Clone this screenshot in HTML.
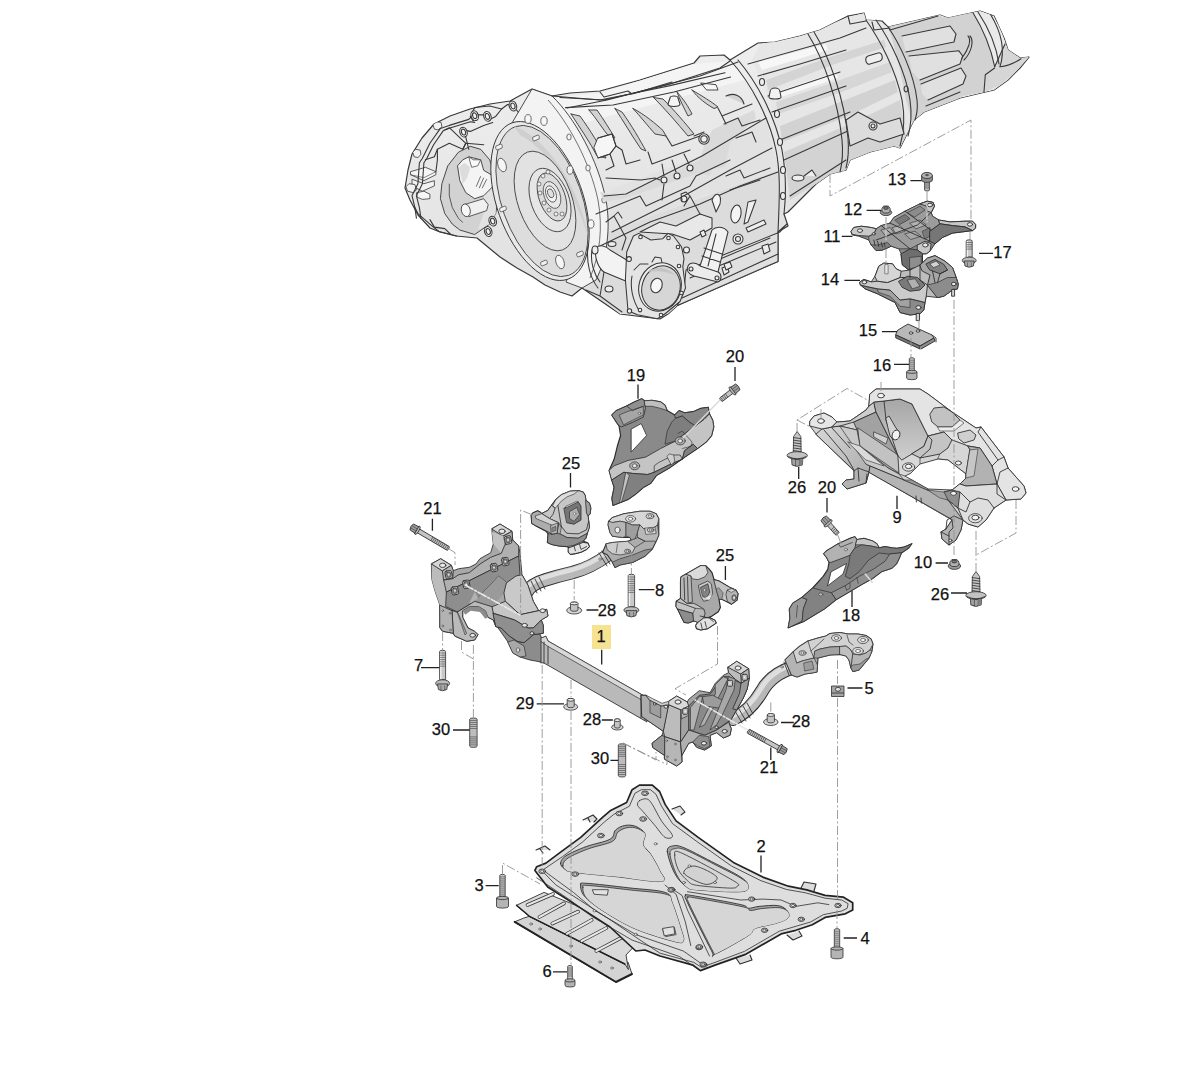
<!DOCTYPE html>
<html><head><meta charset="utf-8"><title>Subframe diagram</title>
<style>
html,body{margin:0;padding:0;background:#fff;}
body{width:1200px;height:1071px;overflow:hidden;font-family:"Liberation Sans",sans-serif;}
svg{display:block}
.l{fill:none;stroke-linejoin:round;stroke-linecap:round}
.t{font-family:"Liberation Sans",sans-serif;font-size:16.5px;fill:#111;text-anchor:middle}
.ld{stroke:#222;stroke-width:1.3;fill:none}
.dd{stroke:#939393;stroke-width:0.9;fill:none;stroke-dasharray:9 2.5 2 2.5}
</style></head><body>
<svg width="1200" height="1071" viewBox="0 0 1200 1071">
<!-- 10_trans.svg -->
<g id="trans">
<defs>
<linearGradient id="tg1" x1="0" y1="0" x2="0.3" y2="1"><stop offset="0" stop-color="#f3f3f3"/><stop offset="0.5" stop-color="#e8e8e8"/><stop offset="1" stop-color="#dedede"/></linearGradient>
<clipPath id="tclip"><path d="M405,188 L408,170 L412,154 L422,138 L434,124 L450,116 L470,109 L490,104 L510,101 L532,89 L552,96 L570,93 L600,91 L640,80 L694,63 L700,56 L724,55 L730,60 L758,43 L775,42 L800,36 L820,30 L848,16 L864,13 L866,20 L882,21 L888,27 L940,15 L948,18 L980,11 L994,16 L1004,38 L1008,50 L1020,58 L1029,57 L1020,68 L1008,80 L994,90 L960,98 L924,112 L914,120 L906,136 L900,148 L894,146 L870,152 L850,160 L846,170 L838,172 L830,174 L816,184 L800,200 L788,212 L784,214 L788,226 L778,232 L778,261.4 L677.4,305.5 L668,314 L660,319 L620,314 L582,288 L572,296 L560,292 L545,285 L533,277 L517,268 L500,257 L477,238 L456,236 L440,232 L430,228 L418,215 L410,200 Z"/></clipPath>
</defs>
<!-- silhouette -->
<path d="M405,188 L408,170 L412,154 L422,138 L434,124 L450,116 L470,109 L490,104 L510,101 L532,89 L552,96 L570,93 L600,91 L640,80 L694,63 L700,56 L724,55 L730,60 L758,43 L775,42 L800,36 L820,30 L848,16 L864,13 L866,20 L882,21 L888,27 L940,15 L948,18 L980,11 L994,16 L1004,38 L1008,50 L1020,58 L1029,57 L1020,68 L1008,80 L994,90 L960,98 L924,112 L914,120 L906,136 L900,148 L894,146 L870,152 L850,160 L846,170 L838,172 L830,174 L816,184 L800,200 L788,212 L784,214 L788,226 L778,232 L778,261.4 L677.4,305.5 L668,314 L660,319 L620,314 L582,288 L572,296 L560,292 L545,285 L533,277 L517,268 L500,257 L477,238 L456,236 L440,232 L430,228 L418,215 L410,200 Z" fill="url(#tg1)" stroke="#383838" stroke-width="1.2" stroke-linejoin="round"/>
<g clip-path="url(#tclip)">
<!-- shaded zones -->
<path d="M846,18 L864,13 L888,27 L940,15 L980,11 L994,16 L1004,38 L1008,50 L1029,57 L1008,80 L994,90 L960,98 L924,112 L906,136 L900,148 L870,152 L846,170 L816,184 L790,200 L782,150 L770,100 L752,60 L760,44 L800,36 Z" fill="#e6e6e6"/>
<!-- rear axial stripes -->
<path d="M766,80 L830,57 L884,40 L886,47 L832,65 L768,90Z" fill="#d4d4d4"/>
<path d="M776,102 L840,80 L890,62 L892,72 L842,92 L778,114Z" fill="#d6d6d6"/>
<path d="M780,126 L845,100 L895,80 L898,92 L848,116 L782,142Z" fill="#d2d2d2"/>
<path d="M784,152 L850,124 L900,100 L906,136 L900,148 L870,152 L846,170 L816,184 L790,200Z" fill="#d3d3d3"/>
<path d="M758,62 L826,44 L828,50 L762,70Z M770,94 L836,72 L838,78 L772,100Z" fill="#f7f7f7"/>
<!-- tail -->
<path d="M888,25 L938.7,14.7 L942.7,17.3 L973,12.7 L984,33 L993,57 L994.7,66.7 L984,92 L962.7,96 L954.7,101 L924,116 L913,125 L906,100 L898,60Z" fill="#d2d2d2"/>
<path d="M909,56 L958.7,50.7 L962.7,56 L960,64 L920,80 L912,72Z M921,84 L961,68 L966,76 L963,84 L928,100 L922,94Z M902,36 L950,26 L956,34 L954,42 L906,52Z" fill="#e0e0e0"/>
<path d="M973,12.7 L981,11.3 L990.7,14.7 L1000,26.7 L1005,42.7 L1004,58 L1000,66.7 L994.7,66.7 L993,57 L984,33Z" fill="#eaeaea"/>
<path d="M994.7,68 L1005,44 L1013,53 L1021,58.7 L1028.7,56.7 L1024,62.7 L1013,74.7 L1000,85.3 L984,92 L985.3,74.7Z" fill="#d6d6d6"/>
<!-- lower case shade -->
<path d="M600,235 L778,170 L778,262 L677,306 L668,314 L620,314 L590,290 Z" fill="#dcdcdc"/>
<path d="M610,190 L700,156 L766,118 L778,170 L690,200 L612,232 Z" fill="#e2e2e2"/>
<!-- case top highlight -->
<path d="M552,98 L600,93 L694,64 L730,61 L745,80 L640,108 L575,125 Z" fill="#f4f4f4"/>
<!-- left housing inner cavity -->
<path d="M470.3,146.3 L458.3,152.3 L447.8,165.8 L441.9,183.7 L440.4,198.7 L444.8,213.6 L452.3,224.1 L459.8,230.0 L474.7,234.5 L489.7,224.1 L495.7,213.6 L498.7,195.7 L495.7,177.7 L489.7,159.8 L480.7,149.3 Z" fill="#d2d2d2" stroke="#383838" stroke-width="0.9"/>
<path d="M449.3,183.7 L449.3,195.7 L452.3,207.6 L458.3,218.1 L462.8,222.6" fill="none" stroke="#383838" stroke-width="0.8"/>
<path d="M471.7,162.8 L483.7,170.3 L492.7,183.7 L495.7,195.7 L495.7,213.6 L489.7,224.1 L477.7,230.0 L483.7,213.6 L483.7,195.7 L477.7,177.7 Z" fill="#e2e2e2" stroke="none"/>
<path d="M457.5,165.8 L462.8,159.8 L468.8,156.8 L480.7,159.8 L483.7,170.3 L491.2,174.7 L497.2,180.7 L492.7,186.7 L483.7,195.7 L474.7,198.7 L465.8,192.7 L459.8,180.7 Z" fill="#f4f4f4" stroke="#383838" stroke-width="0.9"/>
<path d="M459.0,167.3 L464.3,162.8 L470.3,167.3 L467.3,177.7 L462.8,183.7 Z" fill="#dcdcdc" stroke="none"/>
<path d="M468.8,156.8 L473.2,159.8 L480.7,159.8 L477.7,165.8 L471.7,167.3 L470.3,162.8 Z" fill="#fafafa" stroke="#383838" stroke-width="0.7"/>
<path d="M476.2,186.7 L480.7,176.2 M479.2,188.2 L483.7,177.7 M482.2,188.2 L486.7,179.2" fill="none" stroke="#383838" stroke-width="0.7"/>
<path d="M464.3,204.6 L483.7,198.7 L488.2,204.6 L486.7,210.6 L468.8,216.6 Z" fill="#f0f0f0" stroke="#383838" stroke-width="0.8"/>
<ellipse cx="465.8" cy="210.3" rx="4.4" ry="6.4" transform="rotate(-15 465.8 210.3)" fill="#f8f8f8" stroke="#383838" stroke-width="0.8"/>
<path d="M410.5,171.7 L425.4,167.3 L435.9,171.7 L435.9,174.7 L423.9,180.7 L410.5,174.7 Z" fill="#f6f6f6" stroke="#383838" stroke-width="0.8"/>
<path d="M412.0,179.2 L423.9,183.7 L434.4,180.7 L434.4,185.9 L422.4,191.2 L412.0,185.9 Z" fill="#f2f2f2" stroke="#383838" stroke-width="0.8"/>
<path d="M410.5,174.7 L423.9,177.7 L435.9,171.7" fill="none" stroke="#383838" stroke-width="0.6"/>
<path d="M406.0,186.7 L409.0,183.7 L414.9,184.5 L416.4,189.7 L413.5,192.7 L407.5,191.2 Z" fill="#f2f2f2" stroke="#383838" stroke-width="0.8"/>
<path d="M416.4,192.7 L423.9,191.2 L429.9,194.2 L429.9,198.7 L422.4,199.4 L417.2,197.2 Z" fill="#f6f6f6" stroke="#383838" stroke-width="0.8"/>
<path d="M412.7,152.3 L415.7,149.3 L420.2,150.1 L420.9,154.6 L417.9,157.5 L414.2,156.8 Z" fill="#f2f2f2" stroke="#383838" stroke-width="0.8"/>
<path d="M432.9,124.7 L435.9,121.7 L441.1,122.4 L441.9,126.9 L438.1,129.9 L434.4,129.1 Z" fill="#f2f2f2" stroke="#383838" stroke-width="0.8"/>
</g>
</g>

<!-- 11_flywheel.svg -->
<g id="flywheel">
<!-- bell housing flange band (right of flywheel) -->
<path d="M532,89 L552,96 C575,118 598,160 606,200 C611,228 607,258 596,280 L582,288 L566,282 C585,240 575,160 512,123 Z" fill="#f3f3f3" stroke="#383838" stroke-width="0.9" stroke-linejoin="round"/>
<path d="M548,100 C568,122 590,162 598,200 C603,228 600,254 590,278" fill="none" stroke="#383838" stroke-width="0.7"/>
<!-- outer flange ellipse -->
<ellipse cx="540" cy="201" rx="43" ry="83" transform="rotate(-19.7 540 201)" fill="#e9e9e9" stroke="#383838" stroke-width="0.9"/>
<ellipse cx="542" cy="201" rx="40" ry="79" transform="rotate(-19.7 542 201)" fill="#dddddd" stroke="#383838" stroke-width="0.8"/>
<!-- shadow crescent upper right -->
<path d="M514,126 C550,140 580,190 588,236 C575,195 550,150 520,135 Z" fill="#cfcfcf"/>
<ellipse cx="545" cy="201" rx="27" ry="52" transform="rotate(-19.7 545 201)" fill="#e2e2e2" stroke="#383838" stroke-width="0.8"/>
<ellipse cx="550" cy="200" rx="19" ry="33" transform="rotate(-19.7 550 200)" fill="#e6e6e6" stroke="#383838" stroke-width="0.8"/>
<ellipse cx="552" cy="197" rx="13" ry="25" transform="rotate(-19.7 552 197)" fill="#dcdcdc" stroke="#383838" stroke-width="0.8"/>
<ellipse cx="552" cy="195" rx="8" ry="14" transform="rotate(-19.7 552 195)" fill="#e8e8e8" stroke="#383838" stroke-width="0.7"/>
<ellipse cx="551" cy="194" rx="5" ry="8.5" transform="rotate(-19.7 551 194)" fill="#f4f4f4" stroke="#383838" stroke-width="0.7"/>
<ellipse cx="550.5" cy="193.5" rx="2.8" ry="4.6" transform="rotate(-19.7 550 193)" fill="#e0e0e0" stroke="#383838" stroke-width="0.7"/>
<!-- hub bolts -->
<g fill="#eee" stroke="#383838" stroke-width="0.6">
<circle cx="543" cy="176" r="2"/><circle cx="539" cy="184" r="2"/><circle cx="540" cy="193" r="2"/><circle cx="544" cy="203" r="2"/><circle cx="549" cy="210" r="2"/><circle cx="556" cy="214" r="2"/><circle cx="562" cy="214" r="2"/><circle cx="548" cy="172" r="2"/>
</g>
<!-- flywheel holes -->
<g fill="#f6f6f6" stroke="#383838" stroke-width="0.7">
<ellipse cx="502" cy="165" rx="4" ry="7" transform="rotate(-19 502 165)"/>
<ellipse cx="560" cy="262" rx="4" ry="7" transform="rotate(-19 560 262)"/>
</g>
<!-- studs -->
<g fill="#f2f2f2" stroke="#383838" stroke-width="0.7">
<path d="M496,146 l5,-2 a1.5,2.5 0 0 1 1,4 l-5,2 a1.5,2.5 0 0 1 -1,-4z"/>
<path d="M533,137 l5,-2 a1.5,2.5 0 0 1 1,4 l-5,2 a1.5,2.5 0 0 1 -1,-4z"/>
<path d="M500,208 l5,-2 a1.5,2.5 0 0 1 1,4 l-5,2 a1.5,2.5 0 0 1 -1,-4z"/>
<path d="M541,262 l5,-2 a1.5,2.5 0 0 1 1,4 l-5,2 a1.5,2.5 0 0 1 -1,-4z"/>
<path d="M577,253 l5,-2 a1.5,2.5 0 0 1 1,4 l-5,2 a1.5,2.5 0 0 1 -1,-4z"/>
</g>
<!-- flange bolt holes right -->
<g fill="#f6f6f6" stroke="#383838" stroke-width="0.7">
<ellipse cx="570" cy="170" rx="3" ry="4.2"/><ellipse cx="591" cy="224" rx="3" ry="4.2"/><ellipse cx="569" cy="137" rx="2.2" ry="3"/><ellipse cx="588" cy="168" rx="2.2" ry="3"/><ellipse cx="604" cy="200" rx="2.2" ry="3"/>

<ellipse cx="544" cy="121" rx="3.2" ry="4.4"/><ellipse cx="528" cy="119" rx="3.2" ry="4.4"/>
</g>
</g>

<!-- 12_trans_lines.svg -->
<g id="translines" class="l" stroke="#383838" stroke-width="1.1">

<!-- rib recesses -->
<g fill="#d3d3d3" stroke="#383838" stroke-width="0.9">
<path d="M571,114 L580,116 C590,130 600,146 606,158 L597,156 C590,142 580,128 571,114Z"/>
<path d="M589,110 L597,110 C604,120 610,130 615,138 L610,138 C602,128 596,118 589,110Z"/>
<path d="M615,108.5 L622,112 C632,126 640,140 646,151 L641,149 C632,136 624,122 615,108.5Z"/>
<path d="M633,108.5 C644,114 656,124 663,130.5 L666,136 L655,134 C648,126 640,116 633,108.5Z"/>
<path d="M653.6,97.5 L663,99 C674,110 686,124 694,134 L688,136 C678,124 666,110 653.6,97.5Z"/>
<path d="M677,92 C684,100 688,106 692,114 L688,116 C684,108 680,100 677,92Z"/>
<path d="M692,90 C702,96 712,102 718,107 L714,108.5 C706,104 698,98 692,90Z"/>
<path d="M598,138 L612,134 L616,146 L610,154 L598,158 L594,148Z" fill="#f6f6f6"/>
<path d="M701,83 L716,84.7 L718,90 L707,90Z" fill="#f6f6f6"/>
</g>
<path d="M600,192 L622,196 L700,160 L704,146 L712,130 L754,110 L756,118 L730,143 L725,167 L712,169 L710,176 L699,173 L626,198 L604,202Z" fill="#dadada" stroke="none"/>
<!-- left housing gasket flange and lugs -->
<path d="M416.4,218.1 L414.9,207.6 L412.0,195.7 L417.9,183.7 L419.4,162.8 L422.4,158.3 L429.9,143.3 L440.4,128.4 L449.3,125.4 L468.8,119.4 L473.2,114.9"/>
<path d="M420.9,218.1 L419.4,207.6 L416.4,195.7 L422.4,183.7 L423.9,162.8 L426.9,158.3 L433.6,144.8 L443.3,130.6 L450.8,127.7 L470.3,121.7 L474.7,122.4"/>
<path d="M444.8,129.9 L449.3,127.7 L465.8,143.3 L462.8,149.3 L449.3,143.3 L437.4,149.3 L434.4,156.8 L425.4,159.8"/>
<path d="M437.4,149.3 L437.4,159.8 L435.9,171.7"/>
<path d="M462.8,149.3 L465.8,143.3 L483.7,144.8"/>
<path d="M470.3,116.4 L473.2,120.9 L477.7,114.9 L483.7,114.9 L489.7,119.4 L495.7,116.4 L501.6,109.0 L507.6,104.5 L513.6,106.0 L518.1,112.0"/>
<path d="M471.7,113.5 L474.7,107.5 L489.7,106.0 L501.6,109.0"/>
<path d="M462.8,129.9 L470.3,131.4 L483.7,125.4 L492.7,122.4"/><path d="M465.8,137.4 L468.8,149.3"/>
<path d="M414.9,207.6 L417.9,213.6 L429.9,224.1 L438.9,231.5 L456.8,236.0"/><path d="M429.9,219.6 L434.4,227.1 L444.8,228.6 L450.8,234.5"/>
<g fill="#f6f6f6"><ellipse cx="474.7" cy="115.7" rx="3.6" ry="5" transform="rotate(-20 474.7 115.7)"/><ellipse cx="474.7" cy="115.7" rx="2" ry="3" transform="rotate(-20 474.7 115.7)"/><ellipse cx="487.4" cy="116.4" rx="3.6" ry="5" transform="rotate(-20 487.4 116.4)"/><ellipse cx="487.4" cy="116.4" rx="2" ry="3" transform="rotate(-20 487.4 116.4)"/><ellipse cx="463.5" cy="132.1" rx="3.6" ry="5" transform="rotate(-20 463.5 132.1)"/><ellipse cx="463.5" cy="132.1" rx="2" ry="3" transform="rotate(-20 463.5 132.1)"/><ellipse cx="512.9" cy="106.0" rx="3.6" ry="5" transform="rotate(-20 512.9 106.0)"/><ellipse cx="512.9" cy="106.0" rx="2" ry="3" transform="rotate(-20 512.9 106.0)"/><ellipse cx="488.2" cy="231.5" rx="3.6" ry="5" transform="rotate(-20 488.2 231.5)"/><ellipse cx="488.2" cy="231.5" rx="2" ry="3" transform="rotate(-20 488.2 231.5)"/><ellipse cx="492.7" cy="221.1" rx="3.6" ry="5" transform="rotate(-20 492.7 221.1)"/><ellipse cx="492.7" cy="221.1" rx="2" ry="3" transform="rotate(-20 492.7 221.1)"/></g>
<!-- case top ridges -->
<path d="M552,96 L600,100 L630,94 L670,84 L720,68 L730,61"/>
<path d="M567,108 L607,100 L700,76 L738,62"/>
<path d="M600,92 L604,97 L628,91 L632,94 L672,82"/>
<!-- case end flange arcs -->
<path d="M730,60 C752,84 770,120 776,150 C780,170 780,190 778,232"/>
<path d="M738,60 C760,86 776,120 782,150 C786,172 786,196 784,214"/>
<!-- lower ridge diagonals -->
<path d="M604,196 L626,194 L702,156 L766,118"/>
<path d="M612,232 L680,198 L730,170 L772,148"/>
<path d="M596,214 L640,196 M640,196 L646,206 L690,186 L696,176 L730,160"/>
<path d="M600,246 L650,222 L700,204 L740,186 L778,172"/>
<!-- ribs on case top -->
<path d="M565.5,107.6 L613,105 L674,92 L730.6,77"/>
<path d="M560,97.5 L604,100 L630,94 L670,85.6 L725,72.7"/>
<path d="M606,178 L641,180 L655,178 L660,180"/>
<path d="M598,158 L610,154 L616,146 L612,134 L598,138 M610,154 L614,166 L606,170 M616,146 L622,150 L626,164 L640,160"/>
<path d="M648,152 L652,164 L690,150 M694,136 L704,132 M666,136 L672,146 L700,136"/>
<path d="M718,108 L726,124 M722,116 L752,104 M724,124 L738,118 L742,126 L760,120 M736,138 L752,132 L756,142"/>
<path d="M726,96 C734,92 742,96 744,104" fill="#d3d3d3"/>
<!-- boss on top -->
<path d="M668,104 l2,-6 a4,2 0 0 1 8,0 l2,6 a6,2.5 0 0 1 -12,0z" fill="#f4f4f4"/>
<circle cx="704" cy="139" r="5.2" fill="#f0f0f0"/><circle cx="704" cy="139" r="3.2"/>
<g fill="#eee"><circle cx="664" cy="180" r="3"/><circle cx="677" cy="176" r="3"/><circle cx="690" cy="168" r="3"/><circle cx="684" cy="199" r="3"/></g>
<path d="M662,164 L664,176 M672,160 L676,172 M684,154 L689,164 M664,184 L662,200"/>
<!-- rear section axial lines -->
<path d="M748,64 L840,38 L866,28"/>
<path d="M758,76 L800,64 L846,50"/>
<path d="M768,96 L840,72"/>
<path d="M772,112 L846,86"/>
<path d="M780,140 L850,112"/>
<path d="M784,160 L850,130"/>
<path d="M790,196 L846,160"/>
<!-- mid ring band -->
<path d="M808,34 C824,60 838,100 842,140 C843,150 843,160 840,172"/>
<path d="M814,32 C830,58 844,98 848,138 C849,150 848,160 846,168"/>
<!-- rear flange rings -->
<path d="M866,20 C880,40 896,70 902,100 C905,116 904,132 900,146"/>
<path d="M876,20 C890,40 906,72 910,100 C912,114 911,126 908,136"/>
<path d="M888,27 C900,44 914,74 917,100 C918,108 917,114 915,120"/>
<path d="M848,16 L850,24 L866,21 M872,22 L874,30 L890,28"/>
<!-- tail ribs -->
<path d="M902,36 L950,26 L956,34 L954,42 L906,52 M909,56 L958.7,50.7 L962.7,56 L960,64 L920,80 M921,84 L961,68 L966,76 L963,84 L928,100 M926,106 L960,92 M890,30 L938,16"/>
<path d="M973,12.7 C980,24 990,44 994.7,66.7"/>
<path d="M978,12 C986,24 996,44 999,64"/>
<path d="M990.7,14.7 C1000,30 1006,48 1000,66.7"/>
<path d="M994.7,66.7 L1005,44 M994.7,68 L985.3,74.7 L984,92 M1000,66.7 C1008,66 1016,62 1021,58.7"/>
<path d="M962,58 C968,50 972,40 968,36 M964,60 C972,52 974,40 970,36"/>
<!-- rear lower bracket -->
<path d="M846,120 L858,112 L880,124 L900,118 L904,134 L880,142 L868,138 L850,146 Z" fill="#dcdcdc"/>
<circle cx="873" cy="126" r="4" fill="#eee"/><circle cx="873" cy="126" r="2"/>
<path d="M868,56 l10,-3 a3,4 0 0 1 2,8 l-10,3 a3,4 0 0 1 -2,-8z" fill="#eee"/>
<path d="M906,86 a2,3 0 1 0 0.1,0z"/>
<!-- bolts on flange -->
<g fill="#eee"><ellipse cx="777" cy="114" rx="2.5" ry="3.5"/><ellipse cx="780" cy="142" rx="2.5" ry="3.5"/><ellipse cx="783" cy="170" rx="2.5" ry="3.5"/><ellipse cx="783" cy="196" rx="2.5" ry="3.5"/><ellipse cx="762" cy="82" rx="2.5" ry="3.5"/></g>
<path d="M770,92 a5,4 0 0 1 10,0 l1,5 a6,2 0 0 1 -12,0z" fill="#f2f2f2"/>
<path d="M792,178 a6,3 0 0 1 12,0 a6,3 0 0 1 -12,0z M804,176 L812,170 L816,176" fill="#eee"/>
</g>

<!-- 13_trans_lower.svg -->
<g id="translower" class="l" stroke="#383838" stroke-width="1.05">
<!-- pan -->
<path d="M686,270 L780,232 L787,224 L778,232 L778,261.4 L677.4,305.5 L684,290 Z" fill="#e0e0e0"/>
<path d="M682,298 L778,254 M690,278 L776,242 M694,270 L770,238"/>
<path d="M762,246 l6,-2 l2,7 l-6,3z M722,268 l5,-2 l2,6 l-5,3z" fill="#eee"/>
<!-- upper-lower block -->
<path d="M640,232 L660,222 L676,226 L700,214 L712,218 L712,228 L690,240 L672,234 Z" fill="#e8e8e8"/>
<path d="M684,206 L690,196 L700,214 M690,196 l-4,-4 l-5,2 l1,6"/>
<path d="M712,200 C716,190 722,194 720,204 L716,212 Z" fill="#f4f4f4"/>
<ellipse cx="736" cy="214" rx="5" ry="9" transform="rotate(10 736 214)" fill="#f4f4f4"/>
<path d="M748,202 L756,200 L748,222 L744,224 Z" fill="#f0f0f0"/>
<path d="M746,228 L764,220 l2,4 l-18,8z" fill="#eee"/>
<circle cx="738" cy="239" r="5" fill="#eee"/><circle cx="738" cy="239" r="2.5"/>
<path d="M730,190 L760,180 M726,176 L740,170 L744,178 L770,168"/>
<!-- left lower: cylinder -->
<path d="M596,248 C600,244 606,246 610,250 L630,262 L628,282 L604,272 C598,268 594,256 596,248 Z" fill="#f3f3f3"/>
<path d="M592,250 C590,262 594,274 600,282 M588,246 C586,262 590,278 598,288"/>
<ellipse cx="595" cy="250" rx="3" ry="4" fill="#eee"/>
<ellipse cx="609" cy="289" rx="4" ry="3" fill="#eee"/><ellipse cx="612" cy="244" rx="4" ry="2.5" fill="#eee"/>
<path d="M586,290 L600,296 L622,312 M604,272 L600,296"/>
<path d="M606,222 L614,216 L626,238 L622,250 M614,216 l4,-4 l4,6"/>
<!-- side cover -->
<path d="M626.7,252 L633.4,236 L638.7,233.4 L650.8,240 L662.8,238.7 L668,233.4 L673.5,236 L681.5,246.7 L684,258.7 L682.8,266.8 L685.5,288 L680,301.5 L665.4,313.5 L657.4,318.8 L637.4,314.8 L628,310.8 L625.4,280 Z" fill="#e4e4e4"/>
<path d="M634,270 l6,-6 l8,0 M632,276 C630,286 632,300 640,312"/>
<path d="M652,262 l3,-5 l6,1 l1,5" fill="#e8e8e8"/>
<ellipse cx="660" cy="287" rx="21" ry="24.5" transform="rotate(18 660 287)" fill="#ececec"/>
<ellipse cx="661" cy="288" rx="19" ry="22.4" transform="rotate(18 661 288)" fill="#d6d6d6"/>
<path d="M648,272 C654,266 668,266 676,276 C670,272 656,270 648,272Z" fill="#c4c4c4" stroke="none"/>
<ellipse cx="656.5" cy="285.5" rx="5.6" ry="7.4" transform="rotate(18 656.5 285.5)" fill="#f6f6f6"/>
<g fill="#f0f0f0"><circle cx="640.5" cy="237" r="1.8"/><circle cx="668.5" cy="238" r="1.8"/><circle cx="678" cy="247" r="1.8"/><circle cx="681.5" cy="293" r="1.8"/><circle cx="661" cy="315" r="1.8"/><circle cx="640" cy="310" r="1.8"/><circle cx="629.5" cy="311" r="2.2"/><circle cx="629" cy="259" r="2.4"/><circle cx="686.5" cy="250" r="3"/><circle cx="679" cy="266" r="1.8"/></g>
<!-- pipe -->
<path d="M712,230 C716,226 724,226 728,232 L718,272 L716,280 L698,274 L700,266 Z" fill="#f1f1f1"/>
<path d="M704,248 L722,254 M702,256 L720,262 M716,234 L708,266"/>
<path d="M688,266 C690,262 696,262 700,266 L718,272 C722,274 722,280 718,282 L694,276 C688,274 686,270 688,266Z" fill="#ececec"/>
<circle cx="691" cy="269" r="2"/><circle cx="717" cy="278" r="2"/>
<path d="M700,232 l4,-2 l2,5 l-4,2z M724,264 l6,-2 l2,5 l-6,3z" fill="#eee"/>
</g>

<!-- 20_mount.svg -->
<g id="p11" class="l" stroke="#2e2e2e" stroke-width="0.9">
<path d="M851.2,231.2 L853.8,227.5 L861.2,226.2 L871.2,227.5 L876.2,228.8 L881.2,225.6 L890.0,223.1 L893.8,217.5 L905.0,211.2 L920.0,203.8 L927.5,201.2 L933.1,202.5 L934.4,206.2 L931.2,212.5 L932.5,216.2 L938.8,220.0 L950.0,221.9 L965.0,221.2 L972.5,221.2 L975.6,224.4 L975.6,228.1 L972.5,230.6 L952.5,233.1 L942.5,237.5 L935.0,243.8 L930.0,251.2 L926.2,253.8 L922.5,253.8 L922.5,263.8 L918.8,267.5 L908.8,270.0 L902.5,265.0 L901.2,253.8 L898.8,248.8 L891.2,246.2 L882.5,250.0 L876.2,250.6 L871.2,245.0 L868.8,240.0 L858.8,236.2 L852.5,235.0 Z" fill="#8a8a8a"/>
<path d="M876.2,228.8 L881.2,225.6 L890.0,223.1 L893.8,217.5 L905.0,211.2 L920.0,203.8 L927.5,201.2 L933.1,202.5 L934.4,206.2 L931.2,212.5 L932.5,216.2 L938.8,220.0 L940.0,223.8 L930.0,231.2 L930.0,241.2 L926.2,242.5 L917.5,245.0 L910.0,248.8 L898.8,248.8 L891.2,246.2 L882.5,250.0 L876.2,250.6 L871.2,245.0 L868.8,240.0 L868.8,236.2 L873.8,233.8 Z" fill="#9c9c9c" stroke-width="0.7"/>
<path d="M895.0,220.0 L905.0,214.4 L910.0,218.8 L900.0,224.4 Z" fill="#787878" stroke-width="0.6"/>
<path d="M907.5,212.5 L920.0,206.2 L925.0,210.0 L915.0,216.9 Z" fill="#8c8c8c" stroke-width="0.6"/>
<path d="M892.5,227.5 L900.0,225.6 L905.0,231.2 L896.2,233.8 Z" fill="#b4b4b4" stroke-width="0.6"/>
<path d="M910.0,223.1 L920.0,220.0 L926.2,225.0 L916.2,228.8 Z" fill="#b0b0b0" stroke-width="0.6"/>
<path d="M905.0,233.8 L915.0,231.2 L921.2,236.2 L911.2,239.4 Z" fill="#a8a8a8" stroke-width="0.6"/>
<path d="M881.2,230.0 L890.0,227.5 L893.8,232.5 L886.2,236.2 Z" fill="#acacac" stroke-width="0.6"/>
<path d="M922.5,231.2 L930.0,227.5 L930.0,236.2 L925.0,238.8 Z" fill="#7a7a7a" stroke-width="0.6"/>
<path d="M890.0,223.1 L930.0,241.2"/><path d="M881.2,225.6 L910.0,248.8"/><path d="M905.0,211.2 L932.5,231.2"/><path d="M876.2,240.0 L917.5,225.0 L931.2,212.5"/>
<path d="M851.2,231.2 L853.8,227.5 L861.2,226.2 L871.2,227.5 L876.2,228.8 L873.8,233.8 L868.8,236.2 L858.8,235.6 L852.5,234.4 Z" fill="#c9c9c9"/>
<path d="M920.0,203.8 L927.5,201.2 L933.1,202.5 L934.4,206.2 L931.2,212.5 L927.5,211.2 L926.2,206.2 Z" fill="#c4c4c4"/>
<path d="M938.8,220.0 L950.0,221.9 L965.0,221.2 L972.5,221.2 L975.6,224.4 L975.6,228.1 L972.5,230.6 L965.0,226.9 L952.5,225.6 L940.0,223.8 Z" fill="#c6c6c6"/>
<path d="M930.0,231.2 L940.0,223.8 L952.5,225.6 L965.0,226.9 L972.5,230.6 L952.5,233.1 L942.5,237.5 L935.0,243.8 L930.0,241.2 Z" fill="#767676"/>
<path d="M917.5,245.0 L925.0,241.2 L931.2,243.8 L930.0,251.2 L926.2,253.8 L922.5,253.8 L917.5,250.0 Z" fill="#c8c8c8"/>
<path d="M871.2,245.0 L876.2,250.6 L882.5,250.0 L891.2,246.2 L887.5,242.5 L877.5,245.0 Z" fill="#7c7c7c" stroke-width="0.6"/>
<path d="M873.8,240.0 L875.0,245.0"/><path d="M877.5,241.2 L878.8,246.2"/><path d="M881.2,242.5 L882.5,246.9"/><path d="M884.4,243.1 L885.2,246.9"/>
<path d="M901.2,253.8 L910.0,248.8 L917.5,250.0 L922.5,253.8 L922.5,263.8 L918.8,267.5 L908.8,270.0 L902.5,265.0 Z" fill="#6e6e6e"/>
<path d="M910.0,257.5 L921.2,256.2 L921.2,263.8 L918.8,266.9 L910.0,268.8 Z" fill="#8e8e8e" stroke-width="0.6"/>
<ellipse cx="860.0" cy="230.6" rx="2.6" ry="1.8" fill="#ececec"/><ellipse cx="930.0" cy="205.0" rx="2.6" ry="1.8" fill="#ececec"/><ellipse cx="970.0" cy="224.4" rx="2.6" ry="1.8" fill="#ececec"/><ellipse cx="925.4" cy="245.0" rx="2.8" ry="2" fill="#ececec"/><ellipse cx="873.8" cy="233.8" rx="1.6" ry="1.2" fill="#ececec"/>
</g>
<g id="p14" class="l" stroke="#2e2e2e" stroke-width="0.9">
<path d="M860.0,281.9 L863.8,279.4 L871.2,281.9 L875.0,276.2 L878.8,266.2 L883.8,263.1 L892.5,263.8 L896.2,268.8 L901.2,271.2 L910.0,270.0 L920.0,265.0 L927.5,258.1 L935.0,255.6 L945.0,261.2 L952.5,267.5 L956.2,277.5 L958.1,283.8 L957.5,288.8 L952.5,290.0 L943.8,296.2 L937.5,297.5 L926.2,296.2 L925.0,302.5 L923.8,310.0 L920.0,313.8 L910.0,315.0 L900.0,312.5 L895.0,302.5 L877.5,293.8 L865.0,288.8 L860.6,285.0 Z" fill="#bdbdbd"/>
<path d="M860.6,285.0 L865.0,288.8 L877.5,293.8 L895.0,302.5 L900.0,312.5 L910.0,315.0 L920.0,313.8 L923.8,310.0 L925.0,302.5 L920.0,301.2 L910.0,298.8 L900.0,300.0 L890.0,290.0 L877.5,288.8 L865.0,286.2 Z" fill="#8a8a8a"/>
<path d="M877.5,288.8 L890.0,290.0 L900.0,300.0 L910.0,298.8 L910.0,307.5 L900.0,306.2 L890.0,296.2 L878.8,292.5 Z" fill="#a2a2a2" stroke-width="0.6"/>
<path d="M860.0,281.9 L863.8,279.4 L871.2,281.9 L877.5,281.2 L887.5,282.5 L900.0,277.5 L910.0,277.5 L920.0,280.0 L927.5,285.0 L926.2,296.2 L925.0,302.5 L920.0,301.2 L910.0,298.8 L900.0,300.0 L890.0,290.0 L877.5,288.8 L865.0,286.2 L860.6,285.0 Z" fill="#cbcbcb"/>
<path d="M875.0,276.2 L878.8,266.2 L883.8,263.1 L892.5,263.8 L896.2,268.8 L901.2,271.2 L900.0,277.5 L887.5,282.5 L877.5,281.2 Z" fill="#d6d6d6"/>
<path d="M898.8,281.2 L907.5,276.2 L917.5,277.5 L925.0,285.0 L920.0,290.0 L910.0,291.2 L902.5,287.5 Z" fill="#7a7a7a"/>
<path d="M907.5,280.0 L915.0,278.8 L920.0,286.2 L912.5,288.8 Z" fill="#b0b0b0" stroke-width="0.6"/>
<path d="M920.0,265.0 L927.5,258.1 L935.0,255.6 L945.0,261.2 L952.5,267.5 L956.2,277.5 L958.1,283.8 L957.5,288.8 L952.5,290.0 L943.8,296.2 L937.5,297.5 L927.5,285.0 L930.0,275.0 L922.5,271.2 Z" fill="#a6a6a6"/>
<path d="M926.2,263.8 L935.0,259.4 L943.8,264.4 L947.5,270.0 L940.0,273.8 L930.0,270.0 Z" fill="#828282"/>
<path d="M930.0,263.8 L936.2,261.2 L940.0,265.0 L933.8,267.5 Z" fill="#d2d2d2" stroke-width="0.6"/>
<path d="M927.5,285.0 L937.5,282.5 L947.5,277.5 L956.2,277.5 L958.1,283.8 L957.5,288.8 L952.5,290.0 L943.8,296.2 L937.5,297.5 Z" fill="#8c8c8c" stroke-width="0.7"/>
<path d="M937.5,282.5 L940.0,273.8 L947.5,270.0"/><path d="M932.5,271.2 L935.0,282.5"/><path d="M910.0,270.0 L910.0,277.5"/><path d="M920.0,265.0 L920.0,280.0"/>
<ellipse cx="864.4" cy="282.2" rx="2.4" ry="1.7" fill="#ececec"/><ellipse cx="918.5" cy="307.5" rx="2.6" ry="1.8" fill="#ececec"/><ellipse cx="953.8" cy="284.0" rx="2.4" ry="1.7" fill="#ececec"/>
<path d="M951.6,290.0 L951.6,296.2 L954.6,296.2 L954.6,289.4 Z" fill="#cfcfcf"/><path d="M916.2,313.8 L916.2,320.6 L919.5,320.6 L919.5,313.8 Z" fill="#cfcfcf"/>
<path d="M884.8,265.0 L884.8,273.8 L888.1,273.8 L888.1,265.0 Z" fill="#e8e8e8" stroke="#777"/>
</g>
<g id="p15" class="l" stroke="#2e2e2e" stroke-width="0.9">
<path d="M898,330 L908,324 L932,335 L934,338 L920,346 L896,335 Z" fill="#b8b8b8"/>
<path d="M896,335 L920,346 L920,349 L896,338 Z" fill="#777"/>
<path d="M920,346 L934,338 L935,341 L921,349" fill="#8a8a8a"/>
<path d="M932,335 L936,338 L936,342" />
<ellipse cx="911" cy="333" rx="1.8" ry="1.2" fill="#eee"/><ellipse cx="918" cy="331" rx="1.8" ry="1.2" fill="#eee"/>
</g>
<!-- 30_p9.svg -->
<g id="p9" class="l" stroke="#333" stroke-width="0.9">
<defs><linearGradient id="g9a" x1="0" y1="0" x2="1" y2="1"><stop offset="0" stop-color="#d8d8d8"/><stop offset="1" stop-color="#a8a8a8"/></linearGradient><linearGradient id="g9b" x1="0" y1="0" x2="0" y2="1"><stop offset="0" stop-color="#a6a6a6"/><stop offset="1" stop-color="#cfcfcf"/></linearGradient></defs>
<path d="M810.0,421.0 L814.0,416.0 L824.0,413.0 L832.0,417.0 L837.0,422.0 L850.0,421.0 L866.0,410.0 L869.0,406.0 L870.0,394.0 L876.0,389.0 L920.0,389.0 L928.0,394.0 L952.0,412.0 L976.0,428.0 L981.0,427.0 L1004.0,457.0 L1008.0,468.0 L1024.0,486.0 L1026.0,493.0 L1021.0,499.0 L1006.0,500.0 L994.0,508.0 L986.0,520.0 L978.0,527.0 L968.0,524.0 L963.0,520.0 L961.0,530.0 L956.0,540.0 L949.0,545.0 L942.0,539.0 L941.0,532.0 L946.0,529.0 L952.0,520.0 L869.0,472.0 L866.0,483.0 L847.0,489.0 L842.0,484.0 L846.0,480.0 L854.0,479.0 L854.0,471.0 L816.0,434.0 L810.0,426.0 Z" fill="#d4d4d4"/>
<path d="M816.0,434.0 L822.0,429.0 L832.0,427.0 L840.0,426.0 L857.0,430.0 L860.0,446.0 L866.0,464.0 L870.0,466.0 L869.0,472.0 L866.0,483.0 L847.0,489.0 L842.0,484.0 L846.0,480.0 L854.0,479.0 L854.0,471.0 Z" fill="url(#g9a)"/>
<path d="M854.0,471.0 L858.0,468.0 L869.0,472.0"/>
<path d="M858.0,468.0 L859.0,481.0"/><path d="M866.0,483.0 L867.0,474.0"/>
<path d="M824.0,430.0 L846.0,456.0 L854.0,470.0"/><path d="M832.0,428.0 L850.0,448.0"/>
<path d="M810.0,421.0 L814.0,416.0 L824.0,413.0 L832.0,417.0 L837.0,422.0 L832.0,427.0 L822.0,429.0 L814.0,427.0 L810.0,426.0 Z" fill="#e6e6e6"/>
<path d="M837.0,422.0 L850.0,421.0 L866.0,410.0 L869.0,406.0 L874.0,402.0 L876.0,412.0 L854.0,422.0 L840.0,426.0 L832.0,427.0 Z" fill="#cdcdcd"/>
<path d="M854.0,422.0 L876.0,412.0 L880.0,420.0 L898.0,456.0 L899.0,474.0 L888.0,468.0 L860.0,446.0 L857.0,430.0 Z" fill="#a2a2a2"/>
<path d="M858.0,428.0 L898.0,455.0 L899.0,473.0 L860.0,446.0 Z" fill="#c2c2c2" stroke-width="0.7"/>
<path d="M840.0,426.0 L857.0,430.0 L860.0,446.0 L888.0,468.0 L899.0,474.0 L904.0,480.0 L870.0,466.0 L866.0,464.0 Z" fill="#c9c9c9" stroke-width="0.7"/>
<path d="M848.0,442.0 L860.0,446.0 L884.0,466.0 L866.0,460.0 Z" fill="#dadada" stroke-width="0.6"/>
<path d="M874.0,402.0 L884.0,401.0 L900.0,399.0 L912.0,404.0 L928.0,436.0 L924.0,446.0 L912.0,454.0 L902.0,460.0 L898.0,456.0 L880.0,420.0 L876.0,412.0 Z" fill="url(#g9b)"/>
<path d="M884.0,401.0 L886.0,420.0 L898.0,456.0"/>
<path d="M870.0,394.0 L876.0,389.0 L920.0,389.0 L928.0,394.0 L952.0,412.0 L976.0,428.0 L981.0,427.0 L1004.0,457.0 L1008.0,468.0 L1024.0,486.0 L1026.0,493.0 L1021.0,499.0 L1006.0,500.0 L997.0,484.0 L992.0,466.0 L980.0,448.0 L968.0,446.0 L952.0,440.0 L944.0,432.0 L928.0,436.0 L912.0,404.0 L900.0,399.0 L884.0,401.0 L874.0,402.0 L869.0,406.0 Z" fill="#e4e4e4"/>
<path d="M930.0,414.0 L934.0,408.0 L944.0,407.0 L952.0,412.0 L960.0,420.0 L952.0,427.0 L938.0,427.0 L932.0,422.0 Z" fill="#c2c2c2"/>
<path d="M938.0,427.0 L952.0,427.0 L960.0,420.0 L964.0,423.0 L954.0,431.0 L940.0,431.0 Z" fill="#ececec" stroke-width="0.6"/>
<path d="M958.0,433.0 L970.0,430.0 L976.0,435.0 L974.0,440.0 L964.0,443.0 L959.0,439.0 Z" fill="#cfcfcf"/>
<path d="M924.0,446.0 L928.0,436.0 L944.0,432.0 L952.0,440.0 L948.0,448.0 L940.0,454.0 L920.0,458.0 L912.0,454.0 Z" fill="#c4c4c4"/>
<path d="M928.0,436.0 L932.0,440.0 L930.0,449.0 L920.0,458.0"/>
<path d="M940.0,454.0 L948.0,448.0 L952.0,440.0 L968.0,446.0 L970.0,450.0 L966.0,474.0 L948.0,460.0 L938.0,459.0 Z" fill="#d6d6d6" stroke-width="0.7"/>
<path d="M911.0,473.0 L920.0,464.0 L938.0,459.0 L948.0,460.0 L966.0,474.0 L966.0,478.0 L960.0,484.0 L952.0,490.0 L928.0,489.0 L912.0,480.0 L905.0,476.0 Z" fill="#fff"/>
<path d="M902.0,460.0 L912.0,454.0 L920.0,458.0 L920.0,464.0 L911.0,473.0 L905.0,476.0 L899.0,474.0 L898.0,456.0 Z" fill="#d9d9d9" stroke-width="0.7"/>
<path d="M968.0,446.0 L980.0,448.0 L992.0,466.0 L997.0,484.0 L966.0,486.0 L960.0,484.0 L966.0,478.0 L966.0,474.0 L970.0,450.0 Z" fill="#b2b2b2"/>
<path d="M970.0,450.0 L978.0,449.0 L974.0,476.0 L966.0,478.0 L966.0,474.0 Z" fill="#c6c6c6" stroke-width="0.6"/>
<path d="M869.0,472.0 L870.0,466.0 L904.0,480.0 L928.0,490.0 L948.0,500.0 L963.0,520.0 L961.0,530.0 L956.0,540.0 L949.0,545.0 L942.0,539.0 L941.0,532.0 L946.0,529.0 L952.0,520.0 Z" fill="#b4b4b4"/>
<path d="M904.0,480.0 L912.0,480.0 L928.0,489.0 L928.0,490.0 Z" fill="#9a9a9a" stroke-width="0.6"/>
<path d="M916.0,496.0 L916.4,502.0"/><path d="M921.0,498.0 L921.4,503.0"/>
<path d="M946.0,529.0 L947.0,520.0 L954.0,516.0 L963.0,520.0"/><path d="M952.0,520.0 L953.0,528.0 L949.0,532.0 L949.0,545.0"/><path d="M941.0,532.0 L949.0,536.0"/>
<path d="M960.0,484.0 L966.0,486.0 L997.0,484.0 L1006.0,500.0 L994.0,508.0 L986.0,520.0 L978.0,527.0 L968.0,524.0 L963.0,520.0 L958.0,508.0 L948.0,500.0 L944.0,492.0 L952.0,490.0 Z" fill="#dedede"/>
<path d="M944.0,492.0 L952.0,490.0 L960.0,492.0 L958.0,508.0 L948.0,500.0 Z" fill="#8e8e8e"/>
<path d="M928.0,490.0 L944.0,492.0 L948.0,500.0 L940.0,498.0 Z" fill="#a4a4a4" stroke-width="0.6"/>
<path d="M960.0,492.0 L970.0,502.0 L978.0,498.0 L988.0,500.0 L994.0,508.0"/><path d="M997.0,484.0 L997.0,494.0 L1006.0,500.0"/><path d="M970.0,502.0 L966.0,512.0 L958.0,508.0"/>
<path d="M1004.0,457.0 L998.0,460.0 L992.0,466.0"/><path d="M1008.0,468.0 L1000.0,472.0 L997.0,484.0"/><path d="M981.0,427.0 L978.0,432.0 L998.0,460.0"/>
<path d="M886.0,418.0 L889.0,416.0 L896.0,428.0 L900.0,433.0 L894.0,440.0 L890.0,436.0 L888.0,428.0 Z" fill="#d2d2d2"/>
<ellipse cx="896.0" cy="435.0" rx="3.8" ry="5" transform="rotate(20 896.0 435.0)" fill="#f2f2f2"/>
<path d="M874.0,432.0 L888.0,438.0 L886.0,444.0 L874.0,437.0 Z" fill="#d0d0d0" stroke-width="0.7"/>
<ellipse cx="881.0" cy="395.6" rx="3.4" ry="2.3" fill="#f6f6f6"/><ellipse cx="821.0" cy="421.0" rx="3.4" ry="2.3" fill="#f6f6f6"/><ellipse cx="1015.6" cy="489.0" rx="3.4" ry="2.3" fill="#f6f6f6"/><ellipse cx="975.4" cy="518.2" rx="6.8" ry="4.6" fill="#e2e2e2" stroke-width="0.8"/><ellipse cx="975.4" cy="517.6" rx="3.6" ry="2.4" fill="#f6f6f6"/><ellipse cx="908.6" cy="467.0" rx="6.1" ry="4.2" fill="#e2e2e2" stroke-width="0.8"/><ellipse cx="908.6" cy="466.4" rx="3.2" ry="2.2" fill="#f6f6f6"/><ellipse cx="958.4" cy="463.0" rx="3" ry="2" fill="#f6f6f6"/><ellipse cx="953.6" cy="493.4" rx="3" ry="2" fill="#f6f6f6"/><ellipse cx="950.4" cy="540.4" rx="1.6" ry="1.2" fill="#f6f6f6"/>
</g>
<!-- 40_shields.svg -->
<g id="p19" class="l" stroke="#2e2e2e" stroke-width="1">
<path d="M611.9,414.9 L616.3,410.6 L626.0,406.3 L634.7,401.9 L641.7,398.7 L644.4,400.8 L652.0,400.3 L660.7,401.9 L665.0,405.2 L667.2,410.6 L674.8,414.9 L679.1,410.6 L684.5,412.8 L693.2,411.7 L700.8,408.4 L708.3,407.3 L709.4,413.8 L712.7,420.3 L713.8,426.8 L711.6,435.5 L706.2,442.0 L697.5,448.5 L684.5,457.2 L669.3,468.0 L656.3,475.6 L650.9,483.2 L643.3,487.5 L635.8,494.0 L628.2,499.4 L613.0,505.4 L611.9,498.3 L614.1,487.5 L611.9,479.9 L609.2,470.2 L614.1,459.3 L617.3,446.3 L620.6,435.5 L619.0,425.8 L615.2,420.3 Z" fill="#8a8a8a" stroke-width="1.2"/>
<path d="M611.9,414.9 L616.3,410.6 L626.0,406.3 L634.7,401.9 L641.7,398.7 L644.4,400.8 L645.5,408.4 L643.3,417.1 L632.5,422.5 L621.7,426.8 L619.0,425.8 L615.2,420.3 Z" fill="#909090" stroke-width="0.8"/>
<path d="M619.5,414.9 L627.1,411.7 L633.6,409.5 L643.3,406.3 L643.3,414.9 L632.5,420.3 L623.8,424.7 Z" fill="#a6a6a6" stroke-width="0.6"/>
<path d="M627.1,406.3 L632.5,410.6 L643.3,406.3" stroke-width="0.7"/>
<path d="M644.4,400.8 L652.0,400.3 L660.7,401.9 L665.0,405.2 L667.2,410.6 L660.7,408.4 L652.0,406.3 L645.5,406.3 Z" fill="#bfbfbf" stroke-width="0.7"/>
<path d="M609.2,470.2 L614.1,465.8 L628.2,460.4 L645.5,457.2 L660.7,448.5 L675.8,440.9 L682.3,435.5 L695.3,425.8 L704.0,419.3 L709.4,413.8 L712.7,420.3 L713.8,426.8 L711.6,435.5 L706.2,442.0 L697.5,448.5 L693.2,444.2 L684.5,450.7 L682.3,459.3 L669.3,464.8 L654.2,472.3 L647.7,474.5 L632.5,473.4 L623.8,472.3 L611.9,479.9 Z" fill="#c4c4c4" stroke-width="0.8"/>
<path d="M611.9,479.9 L623.8,472.3 L632.5,473.4 L647.7,474.5 L654.2,472.3 L669.3,464.8 L682.3,459.3 L684.5,450.7 L693.2,444.2 L697.5,448.5 L684.5,457.2 L669.3,468.0 L656.3,475.6 L650.9,483.2 L643.3,487.5 L635.8,494.0 L628.2,499.4 L613.0,505.4 L611.9,498.3 L614.1,487.5 Z" fill="#808080" stroke-width="0.8"/>
<path d="M626.0,472.3 L629.3,475.6 L621.7,501.6 L619.5,502.7 L622.8,487.5 Z" fill="#c2c2c2" stroke-width="0.6"/>
<path d="M674.8,414.9 L679.1,410.6 L684.5,412.8 L693.2,411.7 L700.8,408.4 L708.3,407.3 L709.4,413.8 L704.0,419.3 L695.3,425.8 L689.9,422.5 L682.3,416.0 L675.8,418.2 Z" fill="#868686" stroke-width="0.8"/>
<path d="M675.8,418.2 L682.3,416.0 L689.9,422.5 L695.3,425.8 L682.3,435.5 L675.8,440.9 L665.0,444.2 L667.2,431.2 L671.5,422.5 Z" fill="#7e7e7e" stroke-width="0.7"/>
<path d="M631.4,429.0 L641.2,423.6 L646.6,435.5 L631.4,451.8 Z" fill="#fff" stroke-width="0.8"/>
<ellipse cx="680.2" cy="440.9" rx="5" ry="4" fill="#b0b0b0" stroke-width="0.7"/><ellipse cx="680.2" cy="440.9" rx="2.4" ry="2" fill="#d8d8d8" stroke-width="0.6"/><ellipse cx="680.2" cy="440.9" rx="1" ry="0.8" fill="#f4f4f4" stroke="none"/>
<ellipse cx="634.7" cy="465.8" rx="5" ry="4" fill="#b0b0b0" stroke-width="0.7"/><ellipse cx="634.7" cy="465.8" rx="2.4" ry="2" fill="#d8d8d8" stroke-width="0.6"/><ellipse cx="634.7" cy="465.8" rx="1" ry="0.8" fill="#f4f4f4" stroke="none"/>
<path d="M678.0,433.3 L682.3,431.2 L692.1,442.0 L691.0,446.3 L682.3,448.5" stroke-width="0.6"/>
<path d="M654.2,472.3 L654.2,465.8 L658.5,462.6 L673.7,455.0 L680.2,455.0 L682.3,459.3" stroke-width="0.7"/><path d="M667.2,456.1 L669.3,453.9 L673.7,455.0 L674.8,461.5 L671.5,464.8 Z" fill="#d0d0d0" stroke-width="0.6"/>
<ellipse cx="639.5" cy="413.3" rx="1.3" ry="1.1" fill="#ddd" stroke-width="0.5"/>
</g>
<g id="p18" class="l" stroke="#2e2e2e" stroke-width="1">
<path d="M823.8,553.6 L826.7,550.7 L838.3,543.7 L850.0,538.4 L854.7,536.7 L857.0,539.6 L864.0,538.4 L872.2,540.8 L876.8,543.7 L879.2,547.8 L885.0,546.6 L892.0,547.8 L896.7,548.3 L903.7,547.2 L911.9,543.7 L908.4,548.3 L901.4,553.0 L899.0,558.8 L896.7,563.5 L892.0,568.2 L881.5,571.7 L872.2,578.7 L861.7,584.5 L850.0,591.5 L836.0,599.7 L824.3,609.0 L812.7,616.0 L803.3,621.8 L788.2,627.7 L789.9,618.3 L789.3,609.0 L792.8,603.2 L802.2,597.3 L812.7,588.0 L823.2,576.3 L827.8,569.3 L829.0,562.3 L826.7,557.7 Z" fill="#858585" stroke-width="1.2"/>
<path d="M823.8,553.6 L826.7,550.7 L838.3,543.7 L850.0,538.4 L854.7,536.7 L857.0,539.6 L854.7,548.3 L850.0,555.3 L831.3,562.3 L829.0,562.3 L826.7,557.7 Z" fill="#b2b2b2" stroke-width="0.8"/>
<path d="M838.3,543.7 L840.7,547.2 L852.3,542.5" stroke-width="0.7"/>
<path d="M857.0,539.6 L864.0,538.4 L872.2,540.8 L876.8,543.7 L879.2,547.8 L871.0,546.0 L861.7,544.8 L855.8,544.8 Z" fill="#c6c6c6" stroke-width="0.7"/>
<path d="M854.7,548.3 L861.7,544.8 L871.0,546.0 L879.2,547.8 L885.0,546.6 L892.0,547.8 L896.7,548.3 L903.7,547.2 L911.9,543.7 L908.4,548.3 L901.4,553.0 L889.7,554.2 L879.2,553.0 L868.7,560.0 L859.3,571.7 L850.0,578.7 L845.3,576.3 L848.8,563.5 L850.0,555.3 Z" fill="#7a7a7a" stroke-width="0.7"/>
<path d="M901.4,553.0 L899.0,558.8 L896.7,563.5 L892.0,568.2 L881.5,571.7 L872.2,578.7 L861.7,584.5 L850.0,591.5 L836.0,599.7 L831.3,592.7 L845.3,585.7 L859.3,576.3 L873.3,569.3 L885.0,561.2 L889.7,554.2 Z" fill="#909090" stroke-width="0.7"/>
<path d="M831.3,571.7 L846.5,563.5 L843.0,574.0 L827.8,585.7 Z" fill="#fff" stroke-width="0.8"/>
<path d="M788.2,627.7 L789.9,618.3 L789.3,609.0 L792.8,603.2 L802.2,597.3 L806.8,599.7 L803.3,609.0 L802.2,620.7 Z" fill="#9a9a9a" stroke-width="0.7"/>
<path d="M802.2,597.3 L812.7,588.0 L831.3,592.7 L836.0,599.7 L824.3,609.0 L812.7,616.0 L803.3,621.8 L802.2,620.7 L803.3,609.0 L806.8,599.7 Z" fill="#828282" stroke-width="0.7"/>
<path d="M797.5,605.5 L796.3,617.2" stroke-width="0.6"/><path d="M845.3,585.7 L846.5,590.3 L850.0,588.0 L850.0,583.3" stroke-width="0.6"/><path d="M857.0,577.5 L858.2,583.3" stroke-width="0.6"/>
<path d="M865.2,574.0 L872.2,582.2" stroke="#d8d8d8" stroke-width="1.6"/>
<ellipse cx="845.9" cy="549.5" rx="1.6" ry="1.3" fill="#ddd" stroke-width="0.5"/><ellipse cx="820.8" cy="594.4" rx="2.2" ry="1.5" fill="#b8b8b8" stroke-width="0.5"/>
</g>

<!-- 50_mounts25.svg -->
<g id="p25a" class="l" stroke="#2a2a2a" stroke-width="0.8">
<path d="M531.3,515.1 L532.7,513.0 L537.6,510.9 L540.4,512.3 L541.8,513.7 L548.1,510.2 L551.6,505.3 L555.8,499.7 L561.4,494.8 L569.8,491.3 L578.2,490.6 L583.1,492.0 L585.2,495.5 L585.9,500.4 L589.4,503.2 L590.8,508.1 L590.1,513.7 L588.0,515.8 L588.7,521.4 L589.4,527.0 L587.3,533.3 L585.9,538.2 L583.1,541.0 L588.0,543.1 L589.4,546.6 L586.6,549.4 L581.0,552.2 L575.4,553.6 L570.5,554.3 L568.4,552.2 L569.1,548.0 L567.0,546.6 L558.6,545.9 L551.6,544.5 L547.4,542.4 L548.1,534.0 L546.0,531.2 L535.5,525.6 L532.0,523.5 Z" fill="#b0b0b0" stroke-width="1.2"/>
<path d="M548.1,510.2 L551.6,505.3 L555.8,499.7 L561.4,494.8 L569.8,491.3 L578.2,490.6 L583.1,492.0 L585.2,495.5 L585.9,500.4 L586.6,513.0 L588.0,515.8 L588.7,521.4 L586.6,529.8 L578.2,534.0 L567.0,533.3 L561.4,527.0 L558.6,522.8 L549.5,518.6 L541.8,513.7 Z" fill="#c6c6c6" stroke-width="0.7"/>
<path d="M555.8,499.7 L561.4,494.8 L569.8,491.3 L578.2,490.6 L574.0,494.1 L567.0,496.9 L561.4,501.1 L557.9,505.3 L555.1,508.1 L553.0,506.0 Z" fill="#dedede" stroke-width="0.6"/>
<path d="M551.6,505.3 L555.1,508.1 L553.0,514.4 L549.5,518.6"/><path d="M557.9,505.3 L561.4,527.0"/>
<path d="M564.2,508.1 L578.2,501.8 L581.0,506.0 L581.0,520.0 L574.0,524.2 L567.0,522.8 Z" fill="#757575" stroke-width="0.8"/>
<path d="M566.3,506.0 L576.8,501.1 L578.2,501.8 L565.6,508.1 Z" fill="#d2d2d2" stroke-width="0.5"/>
<path d="M569.8,511.6 L576.8,507.4 L579.6,514.4 L574.0,521.4 L569.8,518.6 Z" fill="#adadad" stroke-width="0.6"/>
<circle cx="574.7" cy="513.7" r="1.2" fill="#f4f4f4" stroke-width="0.4"/>
<path d="M567.0,533.3 L578.2,534.0 L586.6,529.8 L588.7,521.4 L589.4,527.0 L587.3,533.3 L578.2,538.2 L567.0,537.5 L560.0,534.0 L561.4,527.0 Z" fill="#c2c2c2" stroke-width="0.6"/>
<path d="M551.6,534.0 L557.2,533.3 L560.0,534.0 L567.0,537.5 L578.2,538.2 L587.3,533.3 L585.9,538.2 L583.1,541.0 L574.0,545.2 L567.0,546.6 L558.6,545.9 L551.6,544.5 L547.4,542.4 L548.1,534.0 Z" fill="#8e8e8e" stroke-width="0.7"/>
<path d="M531.3,515.1 L532.7,513.0 L537.6,510.9 L540.4,512.3 L541.8,513.7 L549.5,518.6 L558.6,522.8 L557.2,533.3 L551.6,534.0 L548.1,531.9 L535.5,525.6 L532.0,523.5 Z" fill="#adadad" stroke-width="0.8"/>
<path d="M535.5,515.8 L541.8,513.7 L549.5,518.6 L558.6,522.8 L557.9,527.0 L549.5,524.2 L536.2,518.6 Z" fill="#d2d2d2" stroke-width="0.6"/>
<path d="M550.9,525.6 L557.9,522.8 L557.2,533.3 L551.6,534.0 Z" fill="#b8b8b8" stroke-width="0.6"/><path d="M552.3,527.7 L555.8,526.3 L555.8,530.5 L552.7,531.6 Z" fill="#8a8a8a" stroke-width="0.5"/>
<path d="M585.9,500.4 L589.4,503.2 L590.8,508.1 L590.1,513.7 L588.0,515.8 L586.6,513.0 Z" fill="#a0a0a0" stroke-width="0.6"/>
<path d="M568.4,548.0 L574.0,545.9 L583.1,542.4 L588.0,543.1 L589.4,546.6 L586.6,549.4 L581.0,552.2 L575.4,553.6 L570.5,554.3 L568.4,552.2 Z" fill="#e0e0e0" stroke-width="0.9"/>
<path d="M574.0,545.9 L575.4,550.8"/><path d="M579.6,544.5 L581.0,549.4 L586.6,546.6"/>
</g>
<g id="p25b" class="l" stroke="#2a2a2a" stroke-width="0.8">
<path d="M681.2,576.8 L686.1,574.0 L700.8,565.6 L705.7,565.6 L709.2,569.1 L712.0,572.6 L714.1,579.6 L719.0,581.0 L729.5,587.3 L735.8,590.1 L737.9,593.6 L737.2,599.9 L731.6,604.1 L726.0,601.3 L721.8,599.2 L719.0,599.2 L720.4,607.6 L718.3,611.8 L712.0,616.0 L709.2,617.4 L714.8,620.2 L716.2,623.0 L712.0,625.8 L707.8,628.6 L700.8,630.0 L696.6,628.6 L695.9,625.1 L698.0,622.3 L693.8,620.9 L688.2,623.0 L684.0,622.3 L681.9,618.1 L677.7,609.0 L676.0,606.2 L676.3,601.3 L680.5,598.5 L680.5,581.0 Z" fill="#a8a8a8" stroke-width="1.2"/>
<path d="M681.2,576.8 L686.1,574.0 L691.0,576.1 L692.4,602.0 L686.8,603.4 L680.5,598.5 L680.5,581.0 Z" fill="#b6b6b6" stroke-width="0.7"/>
<path d="M684.0,578.2 L684.7,599.9"/><path d="M687.5,576.8 L688.2,602.0"/>
<path d="M686.1,574.0 L700.8,565.6 L705.7,565.6 L707.8,572.6 L705.0,576.8 L698.0,579.6 L692.4,578.9 L691.0,576.1 Z" fill="#dadada" stroke-width="0.7"/>
<path d="M698.7,585.2 L707.8,581.0 L711.3,583.8 L712.7,593.6 L709.2,599.9 L703.6,601.3 L700.8,596.4 Z" fill="#c6c6c6" stroke-width="0.7"/>
<path d="M700.8,587.3 L707.8,583.8 L709.9,592.2 L706.4,597.8 L702.9,596.4 Z" fill="#828282" stroke-width="0.7"/>
<circle cx="704.7" cy="590.1" r="1.2" fill="#f4f4f4" stroke-width="0.4"/>
<path d="M705.0,597.8 L709.2,599.9 L712.0,595.0 Z" fill="#e8e8e8" stroke="none"/>
<path d="M714.1,579.6 L719.0,581.0 L729.5,587.3 L735.8,590.1 L737.9,593.6 L737.2,599.9 L731.6,604.1 L726.0,601.3 L721.8,599.2 L719.0,599.2 L716.2,589.4 Z" fill="#c2c2c2" stroke-width="0.8"/>
<path d="M727.4,590.1 L731.6,588.7 L735.8,590.1 L737.9,593.6 L737.2,599.9 L731.6,604.1 L727.4,601.3 L726.0,595.0 Z" fill="#b4b4b4" stroke-width="0.7"/>
<path d="M727.4,590.1 L731.6,588.7 L735.8,590.1 L731.6,592.2 Z" fill="#d6d6d6" stroke-width="0.5"/>
<ellipse cx="734.1" cy="597.8" rx="2.2" ry="3" fill="#8c8c8c" stroke-width="0.6"/><ellipse cx="734.1" cy="597.8" rx="0.9" ry="1.2" fill="#eee" stroke="none"/>
<path d="M716.2,589.4 L719.0,599.2 L721.8,599.2 L723.2,592.9 L719.0,588.0 Z" fill="#9c9c9c" stroke-width="0.5"/>
<path d="M677.7,609.0 L693.1,613.2 L693.8,620.9 L688.2,623.0 L684.0,622.3 L681.9,618.1 Z" fill="#8c8c8c" stroke-width="0.7"/>
<path d="M676.0,606.2 L676.3,601.3 L680.5,598.5 L686.8,603.4 L693.8,603.4 L698.0,605.5 L703.6,609.0 L705.0,613.2 L703.6,618.1 L698.0,622.3 L693.8,620.9 L693.1,613.2 L677.7,609.0 Z" fill="#c4c4c4" stroke-width="0.8"/>
<path d="M693.1,613.2 L695.2,608.3 L703.6,609.0 L705.0,613.2 L703.6,618.1 L698.0,622.3 L693.8,620.9 Z" fill="#b8b8b8" stroke-width="0.6"/><path d="M695.2,608.3 L676.3,601.3"/>
<path d="M695.9,625.1 L698.0,622.3 L703.6,618.1 L709.2,617.4 L714.8,620.2 L716.2,623.0 L712.0,625.8 L707.8,628.6 L700.8,630.0 L696.6,628.6 Z" fill="#e2e2e2" stroke-width="0.9"/>
<path d="M700.1,616.0 L709.2,618.1 L713.4,621.6"/><path d="M700.8,623.0 L702.2,628.6"/><path d="M705.0,621.6 L706.4,627.2"/>
</g>
<!-- 60_subframe.svg -->
<g id="p1" class="l" stroke="#333" stroke-width="0.9">
<defs>
<linearGradient id="tubeg" x1="0" y1="0" x2="0" y2="1"><stop offset="0" stop-color="#9a9a9a"/><stop offset="0.35" stop-color="#dedede"/><stop offset="0.7" stop-color="#c4c4c4"/><stop offset="1" stop-color="#8a8a8a"/></linearGradient>
</defs>
<!-- left tube -->
<path d="M527,592 C530,586 538,582 545,580 C556,576.5 566,574 572.5,572.5 C584,569.5 596,564 608,555" stroke="#2e2e2e" stroke-width="13.4" fill="none"/>
<path d="M527,592 C530,586 538,582 545,580 C556,576.5 566,574 572.5,572.5 C584,569.5 596,564 608,555" stroke="#b8b8b8" stroke-width="11.6" fill="none"/>
<path d="M526,589.5 C529,583.5 537,579.5 544,577.5 C555,574 565,571.5 571.5,570 C583,567 595,561.5 607,552.5" stroke="#dedede" stroke-width="4.6" fill="none"/>
<path d="M599,553 l8,13 M602,551 l8,13 M531,581 l6,12 M535,579 l6,12 M539,577 l6,12"/>
<ellipse cx="600" cy="559" rx="1.4" ry="1.1" fill="#ddd" stroke-width="0.5"/>
<!-- right tube -->
<path d="M733,719 C746,713 755,703 762,691 C768,680 778,672 794,667" stroke="#2e2e2e" stroke-width="14" fill="none"/>
<path d="M733,719 C746,713 755,703 762,691 C768,680 778,672 794,667" stroke="#b8b8b8" stroke-width="12" fill="none"/>
<path d="M732,716.5 C745,710.5 754,700.5 761,688.5 C767,677.5 777,669.5 793,664.5" stroke="#dedede" stroke-width="5" fill="none"/>
<path d="M735,711 l7,12 M739,709 l7,12 M743,706 l7,12 M747,703 l6,11 M784,662 l5,13 M788,661 l5,13"/>
<ellipse cx="782" cy="667" rx="1.4" ry="1.1" fill="#ddd" stroke-width="0.5"/>
<!-- left arm (knuckle) -->
<path d="M608.8,521.2 L612.5,517.5 L623.8,513.8 L640.0,511.2 L650.0,511.2 L656.2,513.8 L658.8,518.8 L658.8,535.0 L656.2,541.2 L652.5,548.8 L645.0,556.2 L632.5,562.5 L620.0,565.0 L615.0,567.5 L612.5,562.5 L607.5,555.0 L602.5,552.5 L606.2,543.8 L612.5,542.5 L627.5,541.2 L631.2,540.0 L630.0,537.5 L622.5,537.5 L612.5,536.2 L610.0,532.5 L608.1,525.0 Z" fill="#adadad" stroke-width="1.1"/>
<path d="M608.8,521.2 L612.5,517.5 L623.8,513.8 L640.0,511.2 L650.0,511.2 L656.2,513.8 L658.8,518.8 L657.5,525.0 L652.5,528.8 L643.8,528.8 L640.0,525.0 L632.5,525.0 L626.2,522.5 L620.0,521.2 L612.5,522.5 Z" fill="#d6d6d6" stroke-width="0.8"/>
<path d="M608.8,521.2 L612.5,522.5 L620.0,521.2 L626.2,522.5 L626.2,536.2 L622.5,537.5 L612.5,536.2 L610.0,532.5 L608.1,525.0 Z" fill="#b6b6b6" stroke-width="0.7"/>
<path d="M626.2,522.5 L632.5,525.0 L640.0,525.0 L637.5,532.5 L635.0,538.8 L631.2,540.0 L630.0,537.5 L626.2,536.2 Z" fill="#9e9e9e" stroke-width="0.7"/>
<path d="M640.0,525.0 L643.8,528.8 L652.5,528.8 L657.5,525.0 L658.8,535.0 L656.2,541.2 L645.0,541.2 L637.5,537.5 L637.5,532.5 Z" fill="#b8b8b8" stroke-width="0.7"/>
<path d="M645.0,528.1 L655.0,527.2 L656.2,533.5 L646.2,534.4 Z" fill="#d4d4d4" stroke-width="0.6"/>
<path d="M606.2,543.8 L612.5,542.5 L627.5,541.2 L635.0,547.5 L632.5,552.5 L620.0,555.0 L612.5,553.8 L607.5,550.0 Z" fill="#cdcdcd" stroke-width="0.7"/>
<path d="M620.0,558.8 L632.5,555.0 L645.0,550.0 L652.5,548.8 L645.0,556.2 L632.5,562.5 L620.0,565.0 L615.0,567.5 L612.5,562.5 Z" fill="#8e8e8e" stroke-width="0.7"/>
<path d="M635.0,538.8 L637.5,537.5 L645.0,541.2 L635.0,547.5" stroke-width="0.7"/><path d="M617.5,543.8 L616.2,552.5" stroke-width="0.6"/>
<ellipse cx="630.6" cy="518.8" rx="5" ry="3.3" fill="#e0e0e0" stroke-width="0.7"/><ellipse cx="630.6" cy="518.8" rx="2.2" ry="1.6" fill="#f6f6f6" stroke-width="0.6"/><ellipse cx="650.0" cy="516.2" rx="4" ry="2.6" fill="#e0e0e0" stroke-width="0.7"/><ellipse cx="650.0" cy="516.2" rx="1.8" ry="1.3" fill="#f6f6f6" stroke-width="0.6"/><ellipse cx="650.6" cy="530.0" rx="3.4" ry="2.2" fill="#e0e0e0" stroke-width="0.7"/><ellipse cx="650.6" cy="530.0" rx="1.5" ry="1.1" fill="#f6f6f6" stroke-width="0.6"/><ellipse cx="627.5" cy="551.2" rx="3" ry="2.0" fill="#e0e0e0" stroke-width="0.7"/><ellipse cx="627.5" cy="551.2" rx="1.4" ry="1.0" fill="#f6f6f6" stroke-width="0.6"/><ellipse cx="617.5" cy="530.0" rx="2.6" ry="3" fill="#f0f0f0" stroke-width="0.7"/>
<!-- right arm -->
<path d="M785.0,660.0 L793.0,652.0 L800.0,646.0 L808.0,641.0 L818.0,638.0 L826.0,636.0 L830.0,633.5 L840.0,632.5 L848.0,634.0 L858.0,634.0 L866.0,635.5 L871.0,639.0 L873.0,644.0 L872.0,651.0 L869.0,658.0 L864.0,664.0 L859.0,670.0 L853.0,671.5 L851.0,668.0 L849.0,660.0 L846.0,656.0 L840.0,654.5 L830.0,655.0 L818.0,658.0 L817.5,665.0 L817.0,672.0 L812.0,673.0 L805.0,674.0 L797.0,677.0 L791.5,675.0 Z" fill="#acacac" stroke-width="1.1"/>
<path d="M793.0,652.0 L800.0,646.0 L808.0,641.0 L818.0,638.0 L826.0,636.0 L830.0,633.5 L840.0,632.5 L848.0,634.0 L858.0,634.0 L866.0,635.5 L871.0,639.0 L873.0,644.0 L870.0,650.0 L866.0,653.0 L860.0,655.0 L853.0,654.0 L850.0,649.0 L846.0,646.0 L840.0,646.5 L830.0,647.0 L820.0,649.0 L815.0,651.0 L814.0,658.0 L810.0,659.0 L802.0,661.0 L797.0,663.0 Z" fill="#d2d2d2" stroke-width="0.8"/>
<path d="M815.0,651.0 L820.0,649.0 L830.0,647.0 L840.0,646.5 L840.0,654.5 L830.0,655.0 L818.0,658.0 L814.0,658.0 Z" fill="#a2a2a2" stroke-width="0.7"/>
<path d="M840.0,646.5 L846.0,646.0 L850.0,649.0 L853.0,654.0 L852.0,660.0 L851.0,668.0 L849.0,660.0 L846.0,656.0 L840.0,654.5 Z" fill="#c0c0c0" stroke-width="0.7"/>
<path d="M853.0,654.0 L860.0,655.0 L866.0,653.0 L870.0,650.0 L872.0,651.0 L869.0,658.0 L864.0,664.0 L859.0,670.0 L853.0,671.5 L851.0,668.0 L852.0,660.0 Z" fill="#b6b6b6" stroke-width="0.7"/>
<path d="M853.0,665.0 L860.0,664.0 L866.0,659.0 L869.0,658.0 L864.0,664.0 L859.0,670.0 L853.0,671.5 L851.0,668.0 Z" fill="#9a9a9a" stroke-width="0.6"/>
<path d="M797.0,663.0 L802.0,661.0 L810.0,659.0 L814.0,658.0 L817.5,665.0 L817.0,672.0 L812.0,673.0 L805.0,674.0 L797.0,677.0 L791.5,675.0 L785.0,660.0 L793.0,652.0 Z" fill="#b4b4b4" stroke-width="0.7"/>
<path d="M804.0,663.0 L812.0,661.0 L814.0,669.0 L805.0,671.0 Z" fill="#9c9c9c" stroke-width="0.6"/>
<path d="M808.0,641.0 L811.0,651.0 L814.0,658.0" stroke-width="0.7"/><path d="M811.0,651.0 L824.0,639.0" stroke-width="0.7"/><path d="M847.0,635.0 L849.0,642.0 L853.0,645.0" stroke-width="0.7"/>
<ellipse cx="836.5" cy="638.0" rx="5" ry="3.3" fill="#dcdcdc" stroke-width="0.7"/><ellipse cx="836.5" cy="638.0" rx="2.2" ry="1.6" fill="#f4f4f4" stroke-width="0.6"/><ellipse cx="863.0" cy="640.0" rx="5.4" ry="3.6" fill="#dcdcdc" stroke-width="0.7"/><ellipse cx="863.0" cy="640.0" rx="2.4" ry="1.7" fill="#f4f4f4" stroke-width="0.6"/><ellipse cx="858.0" cy="651.0" rx="5.4" ry="3.6" fill="#dcdcdc" stroke-width="0.7"/><ellipse cx="858.0" cy="651.0" rx="2.4" ry="1.7" fill="#f4f4f4" stroke-width="0.6"/><ellipse cx="802.5" cy="653.0" rx="3.6" ry="2.4" fill="#dcdcdc" stroke-width="0.7"/><ellipse cx="802.5" cy="653.0" rx="1.6" ry="1.2" fill="#f4f4f4" stroke-width="0.6"/>
</g>

<!-- 61_brackets.svg -->
<g id="p1b" class="l" stroke="#333" stroke-width="0.9">
<!-- bar -->
<path d="M540,638.7 L546,636.5 L548,641 L641,694.2 L647,697 L647,722 L637,716.2 L544,663 L540.7,662.7 Z" fill="#b9b9b9"/>
<path d="M546,636.5 L548,641 L641,694.2 L641,699.6 L548,646.4 L541,641.5 L540,638.7Z" fill="#d8d8d8" stroke-width="0.7"/>
<path d="M548,646.4 L548,664 M544,642 L544,663 M641,699.6 L641,718 M645,698 L645,720"/>
<!-- lower body to collar -->
<path d="M496,625 L508,642 L513,653 L520,657 L530,660 L541,662 L541,636 L536,628 L520,630 Z" fill="#8c8c8c"/>
<path d="M508,642 L514,640 L524,646 L526,656 L520,657 L513,653Z" fill="#a8a8a8" stroke-width="0.7"/>
<ellipse cx="518" cy="650" rx="1.8" ry="2.2" fill="#e0e0e0" stroke-width="0.6"/>
<!-- left bracket -->
<path d="M431.7,563.7 L440.7,558.7 L451.3,565.3 L453.3,570.7 L458.7,568.7 L469.3,567.3 L476.0,564.0 L480.0,558.7 L490.7,552.7 L493.3,544.0 L492.0,532.0 L492.0,528.7 L500.0,524.0 L512.0,531.3 L512.7,540.0 L518.7,546.0 L520.0,553.3 L522.0,574.7 L528.0,585.3 L533.3,601.3 L538.7,610.7 L546.7,609.3 L548.0,616.0 L541.3,620.0 L543.3,625.3 L543.3,633.3 L533.3,634.7 L524.0,642.7 L517.3,641.3 L509.3,636.0 L501.3,628.0 L496.0,626.7 L493.3,620.0 L488.0,617.3 L485.3,610.7 L478.7,606.7 L469.3,606.7 L462.7,610.7 L462.7,617.3 L468.0,628.0 L474.7,631.3 L478.0,634.7 L474.7,640.0 L466.7,641.3 L454.7,636.0 L453.3,633.3 L442.7,631.3 L440.0,628.0 L440.0,605.3 L435.3,592.0 L432.0,580.0 Z" fill="#a8a8a8"/>
<path d="M431.7,563.7 L432.0,580.0 L435.3,592.0 L440.0,605.3 L446.0,606.7 L446.0,585.3 L444.0,580.0 L442.7,572.0 Z" fill="#bcbcbc" stroke="none"/>
<path d="M431.7,563.7 L440.7,558.7 L451.3,565.3 L442.7,570.7 Z" fill="#d6d6d6"/>
<path d="M492.0,528.7 L500.0,524.0 L512.0,531.3 L503.3,536.0 Z" fill="#d6d6d6"/>
<path d="M442.7,570.7 L451.3,565.3 L453.3,570.7 L452.7,578.7 L444.0,580.0 Z" fill="#b4b4b4"/>
<path d="M503.3,536.0 L512.0,531.3 L512.7,540.0 L504.7,545.3 Z" fill="#b4b4b4"/>
<path d="M492.0,532.0 L503.3,536.0 L504.7,545.3 L501.3,553.3 L493.3,544.0 Z" fill="#c2c2c2" stroke="none"/>
<path d="M444.0,580.0 L452.7,578.7 L458.7,574.7 L469.3,572.7 L480.0,564.0 L490.7,557.3 L501.3,553.3 L504.7,545.3 L512.7,540.0 L518.7,546.0 L518.7,556.0 L446.7,592.0 Z" fill="#b0b0b0"/>
<path d="M446.7,592.0 L518.7,556.0 L520.0,574.7 L517.3,581.3 L506.7,582.7 L498.7,576.0 L474.7,601.3 L457.3,612.0 L446.0,606.7 Z" fill="#8e8e8e"/>
<path d="M469.3,602.7 L474.7,592.0 L480.0,601.3 L474.7,605.3 Z" fill="#b2b2b2" stroke="none"/>
<path d="M498.7,576.0 L506.7,582.7 L504.0,593.3 L492.0,606.7 L474.7,601.3 Z" fill="#9a9a9a" stroke="none"/>
<path d="M506.7,582.7 L516.0,576.0 L522.0,574.7 L528.0,585.3 L533.3,601.3 L538.7,610.7 L520.0,614.7 L505.3,601.3 L504.0,593.3 Z" fill="#c9c9c9"/>
<path d="M492.0,606.7 L505.3,601.3 L520.0,614.7 L538.7,610.7 L546.7,609.3 L548.0,616.0 L541.3,620.0 L533.3,628.0 L528.0,628.0 L514.7,620.0 L493.3,613.3 Z" fill="#c6c6c6"/>
<path d="M457.3,612.0 L474.7,601.3 L492.0,606.7 L493.3,613.3 L496.0,626.7 L493.3,620.0 L488.0,617.3 L485.3,610.7 L478.7,606.7 L469.3,606.7 L462.7,610.7 L462.7,617.3 L468.0,628.0 L474.7,631.3 L478.0,634.7 L474.7,640.0 L466.7,641.3 L454.7,636.0 L453.3,633.3 L452.0,610.7 Z" fill="#bababa"/>
<path d="M462.7,610.7 L469.3,606.7 L478.7,606.7 L485.3,610.7 L488.0,617.3 L485.3,618.7 L480.0,612.0 L470.7,610.7 L465.3,614.7 Z" fill="#8c8c8c" stroke="none"/>
<path d="M440.0,605.3 L452.0,610.7 L453.3,633.3 L442.7,631.3 L440.0,628.0 Z" fill="#b2b2b2"/>
<path d="M496.0,626.7 L501.3,628.0 L509.3,636.0 L517.3,641.3 L524.0,642.7 L533.3,634.7 L543.3,633.3 L543.3,625.3 L541.3,620.0 L533.3,628.0 L528.0,628.0 L514.7,620.0 L493.3,613.3 Z" fill="#8f8f8f"/>
<rect x="451.6" y="586.7" width="6.6" height="8" rx="1.6" transform="rotate(-12 454.9 590.7)" fill="#c4c4c4"/><rect x="452.9" y="588.1" width="4" height="5.2" rx="1" transform="rotate(-12 454.9 590.7)" fill="#8a8a8a" stroke-width="0.6"/><circle cx="454.9" cy="590.7" r="0.9" fill="#eee" stroke="none"/>
<rect x="463.0" y="580.3" width="6.6" height="8" rx="1.6" transform="rotate(-12 466.3 584.3)" fill="#c4c4c4"/><rect x="464.3" y="581.7" width="4" height="5.2" rx="1" transform="rotate(-12 466.3 584.3)" fill="#8a8a8a" stroke-width="0.6"/><circle cx="466.3" cy="584.3" r="0.9" fill="#eee" stroke="none"/>
<rect x="490.7" y="563.6" width="6.6" height="8" rx="1.6" transform="rotate(-12 494.0 567.6)" fill="#c4c4c4"/><rect x="492.0" y="565.0" width="4" height="5.2" rx="1" transform="rotate(-12 494.0 567.6)" fill="#8a8a8a" stroke-width="0.6"/><circle cx="494.0" cy="567.6" r="0.9" fill="#eee" stroke="none"/>
<rect x="502.0" y="557.6" width="6.6" height="8" rx="1.6" transform="rotate(-12 505.3 561.6)" fill="#c4c4c4"/><rect x="503.3" y="559.0" width="4" height="5.2" rx="1" transform="rotate(-12 505.3 561.6)" fill="#8a8a8a" stroke-width="0.6"/><circle cx="505.3" cy="561.6" r="0.9" fill="#eee" stroke="none"/>
<rect x="445.4" y="570.7" width="6.6" height="8" rx="1.6" transform="rotate(-12 448.7 574.7)" fill="#c4c4c4"/><rect x="446.7" y="572.1" width="4" height="5.2" rx="1" transform="rotate(-12 448.7 574.7)" fill="#8a8a8a" stroke-width="0.6"/><circle cx="448.7" cy="574.7" r="0.9" fill="#eee" stroke="none"/>
<rect x="504.7" y="536.0" width="6.6" height="8" rx="1.6" transform="rotate(-12 508.0 540.0)" fill="#c4c4c4"/><rect x="506.0" y="537.4" width="4" height="5.2" rx="1" transform="rotate(-12 508.0 540.0)" fill="#8a8a8a" stroke-width="0.6"/><circle cx="508.0" cy="540.0" r="0.9" fill="#eee" stroke="none"/>
<ellipse cx="442.7" cy="565.3" rx="3.2" ry="2.2" fill="#eaeaea"/><ellipse cx="502.0" cy="531.3" rx="3.2" ry="2.2" fill="#eaeaea"/><ellipse cx="472.7" cy="635.3" rx="2.8" ry="1.9" fill="#eaeaea"/><ellipse cx="542.7" cy="610.7" rx="2.8" ry="1.9" fill="#eaeaea"/><ellipse cx="524.7" cy="625.3" rx="2.8" ry="1.9" fill="#eaeaea"/><ellipse cx="532.0" cy="633.3" rx="2" ry="1.6" fill="#eaeaea"/>
<circle cx="442.7" cy="610.7" r="0.9" fill="#ddd" stroke-width="0.5"/><circle cx="450.0" cy="613.3" r="0.9" fill="#ddd" stroke-width="0.5"/><circle cx="442.7" cy="626.0" r="0.9" fill="#ddd" stroke-width="0.5"/><circle cx="450.4" cy="630.0" r="0.9" fill="#ddd" stroke-width="0.5"/>
<path d="M457.3,612.0 L459.3,616.0 L466.7,633.3 L465.3,634.7 Z" fill="#a0a0a0" stroke-width="0.6"/>
<!-- right bracket -->
<path d="M668.7,701.3 L676.7,696.0 L687.3,702.0 L688.7,699.3 L699.3,690.7 L710.0,692.7 L715.3,683.3 L723.3,675.3 L728.7,672.7 L728.0,667.3 L736.7,661.3 L748.7,668.7 L749.3,678.0 L747.3,688.7 L743.3,698.0 L736.7,710.0 L731.3,719.3 L728.7,722.0 L731.3,728.7 L730.0,735.3 L723.3,738.0 L716.7,732.7 L710.0,735.3 L711.3,746.0 L704.7,750.0 L696.7,747.3 L692.7,742.0 L688.7,743.3 L682.0,755.3 L682.0,762.0 L676.7,766.0 L664.7,759.3 L664.7,755.3 L652.7,747.3 L652.0,743.3 L662.0,735.3 L663.3,731.3 L642.0,716.7 L641.3,695.3 L646.0,695.3 L650.0,700.7 L660.7,706.0 L668.7,704.7 Z" fill="#a6a6a6"/>
<path d="M688.7,706.0 L699.3,695.3 L710.0,694.0 L723.3,676.7 L728.7,676.7 L740.7,683.3 L747.3,688.7 L743.3,698.0 L731.3,719.3 L716.7,730.0 L704.7,735.3 L688.7,730.0 Z" fill="#8a8a8a"/>
<path d="M690.7,707.3 L699.3,696.7 L702.7,696.7 L694.0,730.0 L690.7,730.0 Z" fill="#b2b2b2" stroke-width="0.7"/>
<path d="M715.3,684.7 L723.3,676.7 L728.0,678.7 L704.7,724.7 L699.3,727.3 L715.3,694.0 Z" fill="#b0b0b0" stroke-width="0.7"/>
<path d="M702.7,696.7 L712.7,695.3 L726.0,702.0 L723.3,708.7 L704.7,706.0 Z" fill="#9c9c9c" stroke-width="0.7"/>
<path d="M728.7,676.7 L735.3,679.3 L734.0,690.0 L723.3,712.7 L716.7,724.7 L710.0,730.0 L726.0,690.0 Z" fill="#a8a8a8" stroke-width="0.7"/>
<path d="M668.7,704.7 L681.3,710.0 L680.7,742.0 L664.7,736.7 L663.3,731.3 Z" fill="#bcbcbc"/>
<path d="M681.3,710.0 L688.7,706.0 L688.7,730.0 L680.7,742.0 Z" fill="#a2a2a2"/>
<path d="M668.7,701.3 L676.7,696.0 L687.3,702.0 L688.7,706.0 L681.3,710.0 L668.7,704.7 Z" fill="#d8d8d8"/>
<path d="M681.3,710.0 L688.7,706.0 L688.7,715.3 L681.7,718.7 Z" fill="#b4b4b4" stroke-width="0.7"/>
<path d="M728.0,667.3 L736.7,661.3 L748.7,668.7 L740.7,674.0 Z" fill="#d8d8d8"/>
<path d="M740.7,674.0 L748.7,668.7 L749.3,678.0 L741.3,683.3 Z" fill="#b4b4b4"/>
<path d="M728.0,667.3 L740.7,674.0 L741.3,683.3 L735.3,679.3 L728.7,672.7 Z" fill="#bdbdbd"/>
<path d="M741.3,683.3 L749.3,678.0 L747.3,688.7 L743.3,698.0 L736.7,710.0 L732.7,708.7 L739.3,694.0 Z" fill="#9a9a9a"/>
<path d="M664.7,736.7 L680.7,742.0 L682.0,762.0 L676.7,766.0 L664.7,759.3 Z" fill="#b6b6b6"/>
<path d="M652.7,747.3 L652.0,743.3 L662.0,735.3 L664.7,736.7 L664.7,755.3 Z" fill="#989898"/>
<path d="M680.7,742.0 L688.7,730.0 L704.7,735.3 L716.7,730.0 L728.7,722.0 L731.3,728.7 L730.0,735.3 L723.3,738.0 L716.7,732.7 L710.0,735.3 L711.3,746.0 L704.7,750.0 L696.7,747.3 L692.7,742.0 L688.7,743.3 L682.0,755.3 Z" fill="#b0b0b0"/>
<path d="M692.7,742.0 L699.3,735.3 L708.7,736.7 L710.0,746.0 L704.7,748.7 L698.0,746.0 Z" fill="#8e8e8e" stroke-width="0.7"/>
<path d="M641.3,695.3 L646.0,695.3 L650.0,700.7 L660.7,706.0 L668.7,704.7 L663.3,731.3 L642.0,716.7 Z" fill="#adadad"/>
<path d="M646.0,695.3 L650.0,700.7 L660.7,706.0 L668.7,704.7 L668.7,701.3 L662.0,703.3 L652.7,698.7 Z" fill="#cfcfcf" stroke-width="0.7"/>
<path d="M650.0,700.7 L650.0,712.7 L660.7,718.0 L660.7,706.0 Z" fill="#9e9e9e" stroke-width="0.7"/>
<ellipse cx="678.0" cy="702.0" rx="3" ry="2.1" fill="#ececec"/><ellipse cx="738.0" cy="668.0" rx="3" ry="2.1" fill="#ececec"/><ellipse cx="724.7" cy="731.3" rx="2.6" ry="1.8" fill="#ececec"/><ellipse cx="704.0" cy="743.3" rx="2.6" ry="1.8" fill="#ececec"/><ellipse cx="716.7" cy="727.3" rx="1.6" ry="1.3" fill="#ececec"/><ellipse cx="666.0" cy="706.7" rx="2" ry="1.5" fill="#ececec"/><ellipse cx="654.7" cy="704.0" rx="1.4" ry="1.1" fill="#ececec"/>
<rect x="682.7" y="708.3" width="5.2" height="6" rx="1.2" fill="#c4c4c4"/><circle cx="685.3" cy="711.3" r="0.9" fill="#eee" stroke="none"/><rect x="742.1" y="674.3" width="5.2" height="6" rx="1.2" fill="#c4c4c4"/><circle cx="744.7" cy="677.3" r="0.9" fill="#eee" stroke="none"/><rect x="727.4" y="680.3" width="5.2" height="6" rx="1.2" fill="#c4c4c4"/><circle cx="730.0" cy="683.3" r="0.9" fill="#eee" stroke="none"/>
<circle cx="666.7" cy="740.7" r="0.9" fill="#ddd" stroke-width="0.5"/><circle cx="675.3" cy="744.0" r="0.9" fill="#ddd" stroke-width="0.5"/><circle cx="667.3" cy="756.7" r="0.9" fill="#ddd" stroke-width="0.5"/><circle cx="675.3" cy="760.0" r="0.9" fill="#ddd" stroke-width="0.5"/>
</g>

<!-- 70_tray.svg -->
<g id="p2" class="l" stroke="#2f2f2f" stroke-width="0.9">
<path d="M514.7,921.8 L523.9,918.0 L529.4,916.3 L624.8,964.0 L628.0,962.0 L632.0,974.0 L616.0,982.0 Z" fill="#d4d4d4"/>
<path d="M514.7,921.8 L616,982 L632,974" stroke="#222" stroke-width="2" fill="none"/>
<path d="M516.5,905.3 L544.0,892.4 L575.0,905.0 L640.0,940.0 L626.0,955.0 L628.4,969.5 L624.8,964.0 L529.4,916.3 Z" fill="#dadada"/>
<path d="M516.5,905.3 L529.4,916.3 L624.8,964" stroke="#222" stroke-width="1.5" fill="none"/>
<path d="M527.5,905 L553,894" stroke="#2f2f2f" stroke-width="3.6" stroke-linecap="round"/><path d="M527.5,905 L553,894" stroke="#e6e6e6" stroke-width="2.2" stroke-linecap="round"/>
<path d="M539.4,917 L564,903.4" stroke="#2f2f2f" stroke-width="3.6" stroke-linecap="round"/><path d="M539.4,917 L564,903.4" stroke="#e6e6e6" stroke-width="2.2" stroke-linecap="round"/>
<path d="M552.3,923.6 L578,911.7" stroke="#2f2f2f" stroke-width="3.6" stroke-linecap="round"/><path d="M552.3,923.6 L578,911.7" stroke="#e6e6e6" stroke-width="2.2" stroke-linecap="round"/>
<path d="M567,933.7 L591.7,920" stroke="#2f2f2f" stroke-width="3.6" stroke-linecap="round"/><path d="M567,933.7 L591.7,920" stroke="#e6e6e6" stroke-width="2.2" stroke-linecap="round"/>
<path d="M581.6,941 L606.4,928" stroke="#2f2f2f" stroke-width="3.6" stroke-linecap="round"/><path d="M581.6,941 L606.4,928" stroke="#e6e6e6" stroke-width="2.2" stroke-linecap="round"/>
<path d="M596.3,951 L622,937.4" stroke="#2f2f2f" stroke-width="3.6" stroke-linecap="round"/><path d="M596.3,951 L622,937.4" stroke="#e6e6e6" stroke-width="2.2" stroke-linecap="round"/>
<ellipse cx="531" cy="924" rx="1.4" ry="1" fill="#f4f4f4" stroke-width="0.6"/>
<ellipse cx="540" cy="929" rx="1.4" ry="1" fill="#f4f4f4" stroke-width="0.6"/>
<ellipse cx="600" cy="962" rx="1.4" ry="1" fill="#f4f4f4" stroke-width="0.6"/>
<ellipse cx="612" cy="968" rx="1.4" ry="1" fill="#f4f4f4" stroke-width="0.6"/>
<ellipse cx="571" cy="946" rx="1.4" ry="1" fill="#f4f4f4" stroke-width="0.6"/>
<path d="M583,820 l10,-5 l4,4 l-3,3 M588,818 l2,4" fill="#dcdcdc" stroke-width="1.1"/>
<path d="M536,850 l9,-4 l5,4 M540,849 l3,4" fill="#dcdcdc" stroke-width="1.1"/>
<path d="M672,809 l8,-3 l5,6 l-4,3" fill="#dcdcdc" stroke-width="1.1"/>
<path d="M801,888 l3,-6 l12,2 l-2,7" fill="#dcdcdc" stroke-width="1.1"/>
<path d="M787,935 l6,5 l9,-4 l-3,-5" fill="#dcdcdc" stroke-width="1.1"/>
<path d="M736,958 l4,6 l12,-4 l-2,-5" fill="#dcdcdc" stroke-width="1.1"/>
<path d="M534.9,870.4 L536.7,866.7 L545.9,863.1 L560.6,852.1 L580.7,837.4 L602.8,817.2 L610.1,810.8 L626.6,802.5 L632.1,789.7 L639.4,785.1 L652.3,785.1 L659.6,791.5 L665.1,804.4 L676.1,820.9 L698.2,837.4 L733.4,862.4 L762.8,877.1 L788.4,886.2 L806.8,889.9 L825.1,895.4 L843.5,897.2 L852.7,902.8 L852.7,910.1 L845.3,913.8 L825.1,917.4 L812.3,924.8 L795.8,930.3 L781.1,933.9 L746.2,954.1 L715.0,965.1 L700.4,970.6 L693.0,965.1 L660.0,956.0 L645.0,950.0 L635.8,951.0 L610.0,927.0 L573.4,903.4 L547.7,887.0 Z" fill="#dedede" stroke="#222" stroke-width="1.7"/>
<path d="M542.2,870.4 L562.4,856.7 L582.6,842.0 L604.6,821.8 L613.8,814.4 L629.4,806.2 L634.9,793.3 L641.3,789.7 L650.5,789.7 L656.0,794.3 L661.5,806.2 L672.5,823.6 L696.3,841.1 L731.6,866.1 L760.9,880.7 L786.6,889.5 L805.0,892.7 L825.1,898.2 L841.7,900.0 L848.1,903.7 L847.2,908.3 L841.7,911.0 L823.3,914.7 L810.5,922.0 L779.3,931.2 L744.4,951.4 L715.0,962.4 L701.3,967.3 L693.9,962.4 L660.0,953.2 L640.0,940.0 L612.0,921.0 L578.0,899.0 L556.0,885.0 Z" stroke-width="0.8"/>
<path d="M560.6,863.1 C560.9,860.9 561.8,858.5 566.1,855.7 C570.3,853.0 578.9,849.3 586.2,846.6 C593.6,843.8 605.2,842.0 610.1,839.2 C615.0,836.5 613.1,832.3 615.6,830.0 C618.0,827.8 621.4,826.1 624.8,825.5 C628.1,824.8 632.4,825.0 635.8,826.4 C639.1,827.8 643.7,830.7 645.0,833.7 C646.2,836.8 642.2,841.4 643.1,844.7 C644.0,848.1 647.7,849.6 650.5,853.9 C653.2,858.2 657.8,865.8 659.6,870.4 C661.5,875.0 668.5,880.4 661.5,881.4 C654.4,882.5 632.1,878.4 617.4,876.8 C602.8,875.3 582.3,873.6 573.4,872.2 C564.5,870.9 566.4,870.1 564.2,868.6 C562.1,867.0 560.2,865.2 560.6,863.1 Z" fill="#a4a4a4" stroke-width="0.9"/><clipPath id="cp24"><path d="M560.6,863.1 C560.9,860.9 561.8,858.5 566.1,855.7 C570.3,853.0 578.9,849.3 586.2,846.6 C593.6,843.8 605.2,842.0 610.1,839.2 C615.0,836.5 613.1,832.3 615.6,830.0 C618.0,827.8 621.4,826.1 624.8,825.5 C628.1,824.8 632.4,825.0 635.8,826.4 C639.1,827.8 643.7,830.7 645.0,833.7 C646.2,836.8 642.2,841.4 643.1,844.7 C644.0,848.1 647.7,849.6 650.5,853.9 C653.2,858.2 657.8,865.8 659.6,870.4 C661.5,875.0 668.5,880.4 661.5,881.4 C654.4,882.5 632.1,878.4 617.4,876.8 C602.8,875.3 582.3,873.6 573.4,872.2 C564.5,870.9 566.4,870.1 564.2,868.6 C562.1,867.0 560.2,865.2 560.6,863.1 Z"/></clipPath><g clip-path="url(#cp24)"><path d="M560.6,863.1 C560.9,860.9 561.8,858.5 566.1,855.7 C570.3,853.0 578.9,849.3 586.2,846.6 C593.6,843.8 605.2,842.0 610.1,839.2 C615.0,836.5 613.1,832.3 615.6,830.0 C618.0,827.8 621.4,826.1 624.8,825.5 C628.1,824.8 632.4,825.0 635.8,826.4 C639.1,827.8 643.7,830.7 645.0,833.7 C646.2,836.8 642.2,841.4 643.1,844.7 C644.0,848.1 647.7,849.6 650.5,853.9 C653.2,858.2 657.8,865.8 659.6,870.4 C661.5,875.0 668.5,880.4 661.5,881.4 C654.4,882.5 632.1,878.4 617.4,876.8 C602.8,875.3 582.3,873.6 573.4,872.2 C564.5,870.9 566.4,870.1 564.2,868.6 C562.1,867.0 560.2,865.2 560.6,863.1 Z" transform="translate(2.2,2.2)" fill="#d6d6d6" stroke-width="0.8"/></g>
<path d="M580.7,885.1 C581.0,883.0 578.3,882.8 586.2,883.3 C594.2,883.7 615.3,886.3 628.4,887.8 C641.6,889.4 657.8,889.8 665.1,892.4 C672.5,895.0 669.7,897.0 672.5,903.4 C675.2,909.9 679.8,924.8 681.7,931.0 C683.5,937.1 684.4,938.3 683.5,940.1 C682.6,942.0 684.1,943.8 676.1,942.0 C668.2,940.1 648.0,934.3 635.8,929.1 C623.5,923.9 611.3,916.3 602.8,910.8 C594.2,905.3 588.1,900.4 584.4,896.1 C580.7,891.8 580.4,887.2 580.7,885.1 Z" fill="#a4a4a4" stroke-width="0.9"/><clipPath id="cp25"><path d="M580.7,885.1 C581.0,883.0 578.3,882.8 586.2,883.3 C594.2,883.7 615.3,886.3 628.4,887.8 C641.6,889.4 657.8,889.8 665.1,892.4 C672.5,895.0 669.7,897.0 672.5,903.4 C675.2,909.9 679.8,924.8 681.7,931.0 C683.5,937.1 684.4,938.3 683.5,940.1 C682.6,942.0 684.1,943.8 676.1,942.0 C668.2,940.1 648.0,934.3 635.8,929.1 C623.5,923.9 611.3,916.3 602.8,910.8 C594.2,905.3 588.1,900.4 584.4,896.1 C580.7,891.8 580.4,887.2 580.7,885.1 Z"/></clipPath><g clip-path="url(#cp25)"><path d="M580.7,885.1 C581.0,883.0 578.3,882.8 586.2,883.3 C594.2,883.7 615.3,886.3 628.4,887.8 C641.6,889.4 657.8,889.8 665.1,892.4 C672.5,895.0 669.7,897.0 672.5,903.4 C675.2,909.9 679.8,924.8 681.7,931.0 C683.5,937.1 684.4,938.3 683.5,940.1 C682.6,942.0 684.1,943.8 676.1,942.0 C668.2,940.1 648.0,934.3 635.8,929.1 C623.5,923.9 611.3,916.3 602.8,910.8 C594.2,905.3 588.1,900.4 584.4,896.1 C580.7,891.8 580.4,887.2 580.7,885.1 Z" transform="translate(2.2,2.2)" fill="#d6d6d6" stroke-width="0.8"/></g>
<path d="M685.7,895.4 C686.3,894.2 682.0,893.9 691.2,895.4 C700.4,896.9 731.3,902.4 740.7,904.6 C750.2,906.7 745.0,908.0 748.1,908.3 C751.1,908.6 754.2,906.9 759.1,906.4 C764.0,906.0 772.8,904.9 777.4,905.5 C782.0,906.1 784.8,908.1 786.6,910.1 C788.4,912.1 790.0,915.3 788.4,917.4 C786.9,919.6 782.9,921.1 777.4,922.9 C771.9,924.8 760.3,926.3 755.4,928.4 C750.5,930.6 754.8,931.5 748.1,935.8 C741.3,940.1 721.2,951.7 715.0,954.1 C708.9,956.6 716.0,959.0 711.4,950.5 C706.8,941.9 691.8,911.9 687.5,902.8 C683.2,893.6 685.1,896.6 685.7,895.4 Z" fill="#a4a4a4" stroke-width="0.9"/><clipPath id="cp26"><path d="M685.7,895.4 C686.3,894.2 682.0,893.9 691.2,895.4 C700.4,896.9 731.3,902.4 740.7,904.6 C750.2,906.7 745.0,908.0 748.1,908.3 C751.1,908.6 754.2,906.9 759.1,906.4 C764.0,906.0 772.8,904.9 777.4,905.5 C782.0,906.1 784.8,908.1 786.6,910.1 C788.4,912.1 790.0,915.3 788.4,917.4 C786.9,919.6 782.9,921.1 777.4,922.9 C771.9,924.8 760.3,926.3 755.4,928.4 C750.5,930.6 754.8,931.5 748.1,935.8 C741.3,940.1 721.2,951.7 715.0,954.1 C708.9,956.6 716.0,959.0 711.4,950.5 C706.8,941.9 691.8,911.9 687.5,902.8 C683.2,893.6 685.1,896.6 685.7,895.4 Z"/></clipPath><g clip-path="url(#cp26)"><path d="M685.7,895.4 C686.3,894.2 682.0,893.9 691.2,895.4 C700.4,896.9 731.3,902.4 740.7,904.6 C750.2,906.7 745.0,908.0 748.1,908.3 C751.1,908.6 754.2,906.9 759.1,906.4 C764.0,906.0 772.8,904.9 777.4,905.5 C782.0,906.1 784.8,908.1 786.6,910.1 C788.4,912.1 790.0,915.3 788.4,917.4 C786.9,919.6 782.9,921.1 777.4,922.9 C771.9,924.8 760.3,926.3 755.4,928.4 C750.5,930.6 754.8,931.5 748.1,935.8 C741.3,940.1 721.2,951.7 715.0,954.1 C708.9,956.6 716.0,959.0 711.4,950.5 C706.8,941.9 691.8,911.9 687.5,902.8 C683.2,893.6 685.1,896.6 685.7,895.4 Z" transform="translate(2.2,2.2)" fill="#d6d6d6" stroke-width="0.8"/></g>
<path d="M667.3,851.4 C667.0,846.8 670.1,846.5 672.8,845.9 C675.6,845.3 677.4,845.1 683.9,847.7 C690.3,850.3 701.9,856.6 711.4,861.5 C720.9,866.4 734.6,872.9 740.7,877.1 C746.9,881.2 748.1,883.8 748.1,886.2 C748.1,888.7 749.3,891.1 740.7,891.7 C732.2,892.4 705.9,890.8 696.7,889.9 C687.5,889.0 689.4,889.0 685.7,886.2 C682.0,883.5 677.7,879.2 674.7,873.4 C671.6,867.6 667.6,856.0 667.3,851.4 Z" fill="#a4a4a4" stroke-width="0.9"/><clipPath id="cp27"><path d="M667.3,851.4 C667.0,846.8 670.1,846.5 672.8,845.9 C675.6,845.3 677.4,845.1 683.9,847.7 C690.3,850.3 701.9,856.6 711.4,861.5 C720.9,866.4 734.6,872.9 740.7,877.1 C746.9,881.2 748.1,883.8 748.1,886.2 C748.1,888.7 749.3,891.1 740.7,891.7 C732.2,892.4 705.9,890.8 696.7,889.9 C687.5,889.0 689.4,889.0 685.7,886.2 C682.0,883.5 677.7,879.2 674.7,873.4 C671.6,867.6 667.6,856.0 667.3,851.4 Z"/></clipPath><g clip-path="url(#cp27)"><path d="M667.3,851.4 C667.0,846.8 670.1,846.5 672.8,845.9 C675.6,845.3 677.4,845.1 683.9,847.7 C690.3,850.3 701.9,856.6 711.4,861.5 C720.9,866.4 734.6,872.9 740.7,877.1 C746.9,881.2 748.1,883.8 748.1,886.2 C748.1,888.7 749.3,891.1 740.7,891.7 C732.2,892.4 705.9,890.8 696.7,889.9 C687.5,889.0 689.4,889.0 685.7,886.2 C682.0,883.5 677.7,879.2 674.7,873.4 C671.6,867.6 667.6,856.0 667.3,851.4 Z" transform="translate(2.6,2.6)" fill="#d6d6d6" stroke-width="0.8"/></g>
<path d="M674.7,855.0 C675.3,852.3 672.2,848.9 682.0,853.2 C691.8,857.5 724.2,875.2 733.4,880.7 C742.6,886.2 737.7,885.0 737.1,886.2 C736.5,887.5 736.5,888.2 729.7,888.1 C723.0,887.9 703.7,886.5 696.7,885.3 C689.7,884.1 690.6,883.3 687.5,880.7 C684.5,878.1 680.5,874.0 678.3,869.7 C676.2,865.4 674.1,857.8 674.7,855.0 Z" stroke-width="0.8"/>
<path d="M683.9,873.4 C682.0,870.3 689.4,865.4 694.9,866.1 C700.4,866.7 715.0,874.0 716.9,877.1 C718.7,880.1 711.4,885.0 705.9,884.4 C700.4,883.8 685.7,876.5 683.9,873.4 Z" fill="#d2d2d2" stroke-width="0.8"/>
<path d="M639.4,800.7 C641.0,799.6 644.6,798.2 646.8,798.9 C648.9,799.5 649.8,800.7 652.3,804.4 C654.7,808.0 658.1,815.7 661.5,820.9 C664.8,826.1 671.9,832.8 672.5,835.6 C673.1,838.3 668.2,839.2 665.1,837.4 C662.1,835.6 657.8,828.8 654.1,824.5 C650.5,820.3 645.9,814.9 643.1,811.7 C640.4,808.5 638.2,807.1 637.6,805.3 C637.0,803.4 637.9,801.8 639.4,800.7 Z" fill="#d9d9d9" stroke-width="0.8"/>
<path d="M545.9,872.2 L573.4,892.4 L595.4,910.8 L635.8,934.6 L683.5,951.1 L701.8,964.0" stroke-width="0.8"/>
<path d="M536.7,877.8 L569.7,899.8 L591.7,916.3 L632.1,940.1 L679.8,956.7 L698.2,969.5" stroke-width="0.8"/>
<path d="M665.1,885.1 L676.1,894.3 L685.3,921.8 L690.8,945.6" stroke-width="0.8"/>
<path d="M671.0,888.1 L682.0,895.4 L687.5,910.1 L709.5,956.0" stroke-width="0.8"/>
<path d="M687.5,891.7 L740.7,900.0 L762.8,899.1 L781.1,900.0 L795.8,906.4 L817.8,902.8 L828.8,904.6" stroke-width="0.8"/>
<ellipse cx="645.0" cy="793.3" rx="3.4" ry="2.3" fill="#c9c9c9" stroke-width="0.8"/><ellipse cx="645.0" cy="793.3" rx="1.7" ry="1.2" fill="#f2f2f2" stroke-width="0.6"/>
<ellipse cx="619.3" cy="813.5" rx="3.4" ry="2.3" fill="#c9c9c9" stroke-width="0.8"/><ellipse cx="619.3" cy="813.5" rx="1.7" ry="1.2" fill="#f2f2f2" stroke-width="0.6"/>
<ellipse cx="643.1" cy="819.0" rx="3.4" ry="2.3" fill="#c9c9c9" stroke-width="0.8"/><ellipse cx="643.1" cy="819.0" rx="1.7" ry="1.2" fill="#f2f2f2" stroke-width="0.6"/>
<ellipse cx="600.9" cy="835.6" rx="3.4" ry="2.3" fill="#c9c9c9" stroke-width="0.8"/><ellipse cx="600.9" cy="835.6" rx="1.7" ry="1.2" fill="#f2f2f2" stroke-width="0.6"/>
<ellipse cx="542.2" cy="871.3" rx="3.4" ry="2.3" fill="#c9c9c9" stroke-width="0.8"/><ellipse cx="542.2" cy="871.3" rx="1.7" ry="1.2" fill="#f2f2f2" stroke-width="0.6"/>
<ellipse cx="575.2" cy="874.1" rx="3.4" ry="2.3" fill="#c9c9c9" stroke-width="0.8"/><ellipse cx="575.2" cy="874.1" rx="1.7" ry="1.2" fill="#f2f2f2" stroke-width="0.6"/>
<ellipse cx="671.6" cy="889.7" rx="3.4" ry="2.3" fill="#c9c9c9" stroke-width="0.8"/><ellipse cx="671.6" cy="889.7" rx="1.7" ry="1.2" fill="#f2f2f2" stroke-width="0.6"/>
<ellipse cx="699.1" cy="947.5" rx="3.4" ry="2.3" fill="#c9c9c9" stroke-width="0.8"/><ellipse cx="699.1" cy="947.5" rx="1.7" ry="1.2" fill="#f2f2f2" stroke-width="0.6"/>
<ellipse cx="703.7" cy="964.9" rx="3.4" ry="2.3" fill="#c9c9c9" stroke-width="0.8"/><ellipse cx="703.7" cy="964.9" rx="1.7" ry="1.2" fill="#f2f2f2" stroke-width="0.6"/>
<ellipse cx="838.0" cy="905.5" rx="3.2" ry="2.2" fill="#c9c9c9" stroke-width="0.8"/><ellipse cx="838.0" cy="905.5" rx="1.6" ry="1.1" fill="#f2f2f2" stroke-width="0.6"/>
<ellipse cx="801.3" cy="919.3" rx="3.2" ry="2.2" fill="#c9c9c9" stroke-width="0.8"/><ellipse cx="801.3" cy="919.3" rx="1.6" ry="1.1" fill="#f2f2f2" stroke-width="0.6"/>
<ellipse cx="793.0" cy="905.5" rx="3.2" ry="2.2" fill="#c9c9c9" stroke-width="0.8"/><ellipse cx="793.0" cy="905.5" rx="1.6" ry="1.1" fill="#f2f2f2" stroke-width="0.6"/>
<ellipse cx="764.6" cy="930.3" rx="3.2" ry="2.2" fill="#c9c9c9" stroke-width="0.8"/><ellipse cx="764.6" cy="930.3" rx="1.6" ry="1.1" fill="#f2f2f2" stroke-width="0.6"/>
<ellipse cx="699.4" cy="946.8" rx="3.2" ry="2.2" fill="#c9c9c9" stroke-width="0.8"/><ellipse cx="699.4" cy="946.8" rx="1.6" ry="1.1" fill="#f2f2f2" stroke-width="0.6"/>
<ellipse cx="703.1" cy="964.2" rx="3.2" ry="2.2" fill="#c9c9c9" stroke-width="0.8"/><ellipse cx="703.1" cy="964.2" rx="1.6" ry="1.1" fill="#f2f2f2" stroke-width="0.6"/>
<ellipse cx="751.7" cy="899.1" rx="3.2" ry="2.2" fill="#c9c9c9" stroke-width="0.8"/><ellipse cx="751.7" cy="899.1" rx="1.6" ry="1.1" fill="#f2f2f2" stroke-width="0.6"/>
<ellipse cx="671.0" cy="889.9" rx="3.2" ry="2.2" fill="#c9c9c9" stroke-width="0.8"/><ellipse cx="671.0" cy="889.9" rx="1.6" ry="1.1" fill="#f2f2f2" stroke-width="0.6"/>
<ellipse cx="655.6" cy="843.8" rx="1.5" ry="1.1" fill="#f4f4f4" stroke-width="0.6"/>
<ellipse cx="594.5" cy="910.8" rx="1.5" ry="1.1" fill="#f4f4f4" stroke-width="0.6"/>
<ellipse cx="635.8" cy="934.3" rx="1.5" ry="1.1" fill="#f4f4f4" stroke-width="0.6"/>
<ellipse cx="689.4" cy="866.1" rx="1.5" ry="1.1" fill="#f4f4f4" stroke-width="0.6"/>
<ellipse cx="715.0" cy="882.6" rx="1.5" ry="1.1" fill="#f4f4f4" stroke-width="0.6"/>
<ellipse cx="683.9" cy="882.6" rx="1.5" ry="1.1" fill="#f4f4f4" stroke-width="0.6"/>
<path d="M592.7,889.7 L608.3,889.7 L607.3,895.2 L594.5,894.3 Z" fill="#e2e2e2" stroke-width="0.8"/>
<path d="M663.3,929.1 L674.3,927.3 L676.1,934.6 L666.1,936.5 Z" fill="#e2e2e2" stroke-width="0.8"/>
<path d="M662.8,928.4 L673.8,926.6 L674.7,933.9 L664.6,935.8 Z" fill="#e2e2e2" stroke-width="0.8"/>
</g>
<!-- 80_bolts.svg -->
<g id="bolts">
<path d="M439.6,651.5 a3.0,1.2 0 0 1 6,0 V679.5 h-6 Z" fill="#c9c9c9" stroke="#2e2e2e" stroke-width="0.8" stroke-linejoin="round"/>
<path d="M440.8,651.5 V679.5" stroke="#f0f0f0" stroke-width="1.4" fill="none"/>
<path d="M439.6,653.0 h6 M439.6,655.2 h6 M439.6,657.4 h6 M439.6,659.6 h6 M439.6,661.8 h6 M439.6,664.0 h6 M439.6,666.2 h6 " stroke="#555" stroke-width="0.7" fill="none"/>
<ellipse cx="442.6" cy="683.4" rx="7.0" ry="3.6" fill="#bdbdbd" stroke="#2e2e2e" stroke-width="0.8" stroke-linejoin="round"/>
<path d="M437.6,683.9 L438.4,689.5 Q442.6,692.0 446.8,689.5 L447.6,683.9 Z" fill="#a8a8a8" stroke="#2e2e2e" stroke-width="0.8" stroke-linejoin="round"/>
<path d="M440.9,685.5 V690.5 M444.7,685.5 V690.5" stroke="#444" stroke-width="0.6" fill="none"/>
<path d="M628.1999999999999,575.5 a3.2,1.2 0 0 1 6.4,0 V606.6 h-6.4 Z" fill="#c9c9c9" stroke="#2e2e2e" stroke-width="0.8" stroke-linejoin="round"/>
<path d="M629.4,575.5 V606.6" stroke="#f0f0f0" stroke-width="1.4" fill="none"/>
<path d="M628.1999999999999,577.0 h6.4 M628.1999999999999,579.2 h6.4 M628.1999999999999,581.4 h6.4 M628.1999999999999,583.6 h6.4 M628.1999999999999,585.8 h6.4 M628.1999999999999,588.0 h6.4 M628.1999999999999,590.2 h6.4 M628.1999999999999,592.4 h6.4 " stroke="#555" stroke-width="0.7" fill="none"/>
<ellipse cx="631.4" cy="610.1" rx="7.5" ry="3.3" fill="#bdbdbd" stroke="#2e2e2e" stroke-width="0.8" stroke-linejoin="round"/>
<path d="M626.0,610.6 L626.9,615.7 Q631.4,618.2 635.9,615.7 L636.8,610.6 Z" fill="#a8a8a8" stroke="#2e2e2e" stroke-width="0.8" stroke-linejoin="round"/>
<path d="M629.6,612.2 V616.7 M633.6,612.2 V616.7" stroke="#444" stroke-width="0.6" fill="none"/>
<path d="M966.2,241 a3.0,1.2 0 0 1 6,0 V257 h-6 Z" fill="#c9c9c9" stroke="#2e2e2e" stroke-width="0.8" stroke-linejoin="round"/>
<path d="M967.4000000000001,241 V257" stroke="#f0f0f0" stroke-width="1.4" fill="none"/>
<path d="M966.2,242.5 h6 M966.2,244.7 h6 M966.2,246.9 h6 M966.2,249.1 h6 " stroke="#555" stroke-width="0.7" fill="none"/>
<ellipse cx="969.2" cy="260.5" rx="7.0" ry="3.3" fill="#bdbdbd" stroke="#2e2e2e" stroke-width="0.8" stroke-linejoin="round"/>
<path d="M964.2,261.0 L965.0,266 Q969.2,268.5 973.4,266 L974.2,261.0 Z" fill="#a8a8a8" stroke="#2e2e2e" stroke-width="0.8" stroke-linejoin="round"/>
<path d="M967.5,262.5 V267 M971.3,262.5 V267" stroke="#444" stroke-width="0.6" fill="none"/>
<path d="M797.2,431.5 L800.8000000000001,436.5 L801.2,453.5 H793.2 L793.6,436.5 Z" fill="#c6c6c6" stroke="#2e2e2e" stroke-width="0.8" stroke-linejoin="round"/>
<path d="M793.0,437.5 l8.4,1.2 M793.0,440.1 l8.4,1.2 M793.0,442.7 l8.4,1.2 M793.0,445.3 l8.4,1.2 M793.0,447.9 l8.4,1.2 M793.0,450.5 l8.4,1.2 " stroke="#3a3a3a" stroke-width="0.9" fill="none"/>
<ellipse cx="797.2" cy="455.5" rx="10.2" ry="3.8" fill="#c2c2c2" stroke="#2e2e2e" stroke-width="0.8" stroke-linejoin="round"/>
<path d="M788.2,456.5 Q797.2,461.0 806.2,456.5" fill="none" stroke="#2e2e2e" stroke-width="0.8" stroke-linejoin="round"/>
<path d="M791.6,458.7 L792.0,464.9 Q797.2,467.9 802.4000000000001,464.9 L802.8000000000001,458.7 Q797.2,460.5 791.6,458.7 Z" fill="#a2a2a2" stroke="#2e2e2e" stroke-width="0.8" stroke-linejoin="round"/>
<path d="M795.6,459.7 V466.4 M799.4000000000001,459.5 V466.0" stroke="#333" stroke-width="0.6" fill="none"/>
<path d="M799.4000000000001,459.5 V466.0 L802.4000000000001,464.9 L802.8000000000001,458.7Z" fill="#808080" stroke="none"/>
<path d="M976,571.5 L979.6,576.5 L980,593.5 H972 L972.4,576.5 Z" fill="#c6c6c6" stroke="#2e2e2e" stroke-width="0.8" stroke-linejoin="round"/>
<path d="M971.8,577.5 l8.4,1.2 M971.8,580.1 l8.4,1.2 M971.8,582.7 l8.4,1.2 M971.8,585.3 l8.4,1.2 M971.8,587.9 l8.4,1.2 M971.8,590.5 l8.4,1.2 " stroke="#3a3a3a" stroke-width="0.9" fill="none"/>
<ellipse cx="976" cy="595.5" rx="10.2" ry="3.8" fill="#c2c2c2" stroke="#2e2e2e" stroke-width="0.8" stroke-linejoin="round"/>
<path d="M967,596.5 Q976,601.0 985,596.5" fill="none" stroke="#2e2e2e" stroke-width="0.8" stroke-linejoin="round"/>
<path d="M970.4,598.7 L970.8,604.9 Q976,607.9 981.2,604.9 L981.6,598.7 Q976,600.5 970.4,598.7 Z" fill="#a2a2a2" stroke="#2e2e2e" stroke-width="0.8" stroke-linejoin="round"/>
<path d="M974.4,599.7 V606.4 M978.2,599.5 V606.0" stroke="#333" stroke-width="0.6" fill="none"/>
<path d="M978.2,599.5 V606.0 L981.2,604.9 L981.6,598.7Z" fill="#808080" stroke="none"/>
<path d="M909.3,358.7 a2.5,1 0 0 1 5,0 V370.8 h-5 Z" fill="#c9c9c9" stroke="#2e2e2e" stroke-width="0.8" stroke-linejoin="round"/>
<path d="M909.3,360.2 h5 M909.3,362.2 h5 M909.3,364.2 h5 M909.3,366.2 h5 M909.3,368.2 h5 " stroke="#555" stroke-width="0.7" fill="none"/>
<path d="M906.5999999999999,371.8 a5.2,1.6 0 0 1 10.4,0 V378.1 a5.2,1.6 0 0 1 -10.4,0 Z" fill="#b4b4b4" stroke="#2e2e2e" stroke-width="0.8" stroke-linejoin="round"/>
<path d="M906.5999999999999,371.8 a5.2,1.6 0 0 0 10.4,0" fill="none" stroke="#2e2e2e" stroke-width="0.8" stroke-linejoin="round"/>
<path d="M499.8,875.4 a2.7,1 0 0 1 5.4,0 V897 h-5.4 Z" fill="#c9c9c9" stroke="#2e2e2e" stroke-width="0.8" stroke-linejoin="round"/>
<path d="M499.8,876.9 h5.4 M499.8,878.9 h5.4 M499.8,880.9 h5.4 M499.8,882.9 h5.4 M499.8,884.9 h5.4 M499.8,886.9 h5.4 M499.8,888.9 h5.4 M499.8,890.9 h5.4 M499.8,892.9 h5.4 M499.8,894.9 h5.4 " stroke="#555" stroke-width="0.7" fill="none"/>
<path d="M496.5,898 a6.0,1.6 0 0 1 12,0 V906.5 a6.0,1.6 0 0 1 -12,0 Z" fill="#b4b4b4" stroke="#2e2e2e" stroke-width="0.8" stroke-linejoin="round"/>
<path d="M496.5,898 a6.0,1.6 0 0 0 12,0" fill="none" stroke="#2e2e2e" stroke-width="0.8" stroke-linejoin="round"/>
<path d="M834.3,929.7 a2.7,1 0 0 1 5.4,0 V947.5 h-5.4 Z" fill="#c9c9c9" stroke="#2e2e2e" stroke-width="0.8" stroke-linejoin="round"/>
<path d="M834.3,931.2 h5.4 M834.3,933.2 h5.4 M834.3,935.2 h5.4 M834.3,937.2 h5.4 M834.3,939.2 h5.4 M834.3,941.2 h5.4 M834.3,943.2 h5.4 M834.3,945.2 h5.4 " stroke="#555" stroke-width="0.7" fill="none"/>
<path d="M831.0,948.5 a6.0,1.6 0 0 1 12,0 V957.2 a6.0,1.6 0 0 1 -12,0 Z" fill="#b4b4b4" stroke="#2e2e2e" stroke-width="0.8" stroke-linejoin="round"/>
<path d="M831.0,948.5 a6.0,1.6 0 0 0 12,0" fill="none" stroke="#2e2e2e" stroke-width="0.8" stroke-linejoin="round"/>
<path d="M567.7,966.5 a2.3,1 0 0 1 4.6,0 V979.4 h-4.6 Z" fill="#c9c9c9" stroke="#2e2e2e" stroke-width="0.8" stroke-linejoin="round"/>
<path d="M567.7,968.0 h4.6 M567.7,970.0 h4.6 M567.7,972.0 h4.6 M567.7,974.0 h4.6 M567.7,976.0 h4.6 " stroke="#555" stroke-width="0.7" fill="none"/>
<path d="M565.0,980.4 a5.0,1.6 0 0 1 10,0 V985.4 a5.0,1.6 0 0 1 -10,0 Z" fill="#b4b4b4" stroke="#2e2e2e" stroke-width="0.8" stroke-linejoin="round"/>
<path d="M565.0,980.4 a5.0,1.6 0 0 0 10,0" fill="none" stroke="#2e2e2e" stroke-width="0.8" stroke-linejoin="round"/>
<path d="M469.7,719.2 a3.7,1.2 0 0 1 7.4,0 V746.1999999999999 a3.7,1.2 0 0 1 -7.4,0 Z" fill="#bdbdbd" stroke="#2e2e2e" stroke-width="0.8" stroke-linejoin="round"/>
<path d="M469.7,720.5 h7.4 M469.7,722.5 h7.4 M469.7,724.5 h7.4 M469.7,726.5 h7.4 M469.7,728.5 h7.4 M469.7,744.9 h7.4 M469.7,742.9 h7.4 M469.7,740.9 h7.4 M469.7,738.9 h7.4 M469.7,736.9 h7.4 " stroke="#555" stroke-width="0.7" fill="none"/>
<path d="M618.3,745.0 a3.7,1.2 0 0 1 7.4,0 V775.8 a3.7,1.2 0 0 1 -7.4,0 Z" fill="#bdbdbd" stroke="#2e2e2e" stroke-width="0.8" stroke-linejoin="round"/>
<path d="M618.3,746.3 h7.4 M618.3,748.3 h7.4 M618.3,750.3 h7.4 M618.3,752.3 h7.4 M618.3,754.3 h7.4 M618.3,756.3 h7.4 M618.3,774.5 h7.4 M618.3,772.5 h7.4 M618.3,770.5 h7.4 M618.3,768.5 h7.4 M618.3,766.5 h7.4 M618.3,764.5 h7.4 " stroke="#555" stroke-width="0.7" fill="none"/>
<ellipse cx="570.7" cy="706.8" rx="7.0" ry="3.4" fill="#d6d6d6" stroke="#2e2e2e" stroke-width="0.8" stroke-linejoin="round"/>
<path d="M567.2,699.8 a3.5,1.4 0 0 1 7.0,0 V706.3 a3.5,1.4 0 0 1 -7.0,0 Z" fill="#c4c4c4" stroke="#2e2e2e" stroke-width="0.8" stroke-linejoin="round"/>
<ellipse cx="570.7" cy="699.8" rx="3.5" ry="1.4" fill="#eee" stroke="#2e2e2e" stroke-width="0.8" stroke-linejoin="round"/>
<ellipse cx="617.3" cy="727.2" rx="5.75" ry="2.8" fill="#d6d6d6" stroke="#2e2e2e" stroke-width="0.8" stroke-linejoin="round"/>
<path d="M614.425,720.2 a2.875,1.4 0 0 1 5.75,0 V726.7 a2.875,1.4 0 0 1 -5.75,0 Z" fill="#c4c4c4" stroke="#2e2e2e" stroke-width="0.8" stroke-linejoin="round"/>
<ellipse cx="617.3" cy="720.2" rx="2.875" ry="1.4" fill="#eee" stroke="#2e2e2e" stroke-width="0.8" stroke-linejoin="round"/>
<ellipse cx="574.2" cy="610.4" rx="7.5" ry="3.6" fill="#d6d6d6" stroke="#2e2e2e" stroke-width="0.8" stroke-linejoin="round"/>
<path d="M570.45,603.4 a3.75,1.4 0 0 1 7.5,0 V609.9 a3.75,1.4 0 0 1 -7.5,0 Z" fill="#c4c4c4" stroke="#2e2e2e" stroke-width="0.8" stroke-linejoin="round"/>
<ellipse cx="574.2" cy="603.4" rx="3.75" ry="1.4" fill="#eee" stroke="#2e2e2e" stroke-width="0.8" stroke-linejoin="round"/>
<ellipse cx="770.8" cy="722" rx="7.25" ry="3.5" fill="#d6d6d6" stroke="#2e2e2e" stroke-width="0.8" stroke-linejoin="round"/>
<path d="M767.175,715 a3.625,1.4 0 0 1 7.25,0 V721.5 a3.625,1.4 0 0 1 -7.25,0 Z" fill="#c4c4c4" stroke="#2e2e2e" stroke-width="0.8" stroke-linejoin="round"/>
<ellipse cx="770.8" cy="715" rx="3.625" ry="1.4" fill="#eee" stroke="#2e2e2e" stroke-width="0.8" stroke-linejoin="round"/>
<ellipse cx="886" cy="212.5" rx="5.75" ry="3.1" fill="#9a9a9a" stroke="#2e2e2e" stroke-width="0.8" stroke-linejoin="round"/>
<path d="M881.9,208.5 L883.7,206 L888.3,206 L890.1,208.5 L890.1,211.5 L888.1,213 L883.9,213 L881.9,211.5 Z" fill="#b0b0b0" stroke="#2e2e2e" stroke-width="0.8" stroke-linejoin="round"/>
<ellipse cx="886" cy="208" rx="2.3" ry="1.4" fill="#777" stroke="#2e2e2e" stroke-width="0.8" stroke-linejoin="round"/>
<ellipse cx="954.4" cy="566.0" rx="6.25" ry="3.4" fill="#9a9a9a" stroke="#2e2e2e" stroke-width="0.8" stroke-linejoin="round"/>
<path d="M949.9,562.0 L951.9,559.5 L956.9,559.5 L958.9,562.0 L958.9,565.0 L956.6,566.5 L952.1,566.5 L949.9,565.0 Z" fill="#b0b0b0" stroke="#2e2e2e" stroke-width="0.8" stroke-linejoin="round"/>
<ellipse cx="954.4" cy="561.5" rx="2.5" ry="1.4" fill="#777" stroke="#2e2e2e" stroke-width="0.8" stroke-linejoin="round"/>
<g transform="translate(414.7,528.7) rotate(30.5)">
<rect x="2.8" y="-2.2" width="36.6" height="4.4" rx="1" fill="#c4c4c4" stroke="#2e2e2e" stroke-width="0.8" stroke-linejoin="round"/>
<path d="M37.9,-2.2 v4.4 M35.9,-2.2 v4.4 M33.9,-2.2 v4.4 M31.9,-2.2 v4.4 M29.9,-2.2 v4.4 M27.9,-2.2 v4.4 M25.9,-2.2 v4.4 M23.9,-2.2 v4.4 M21.9,-2.2 v4.4 M19.9,-2.2 v4.4 " stroke="#444" stroke-width="0.7" fill="none"/>
<ellipse cx="3.1" cy="0" rx="1.6" ry="4.75" fill="#bdbdbd" stroke="#2e2e2e" stroke-width="0.8" stroke-linejoin="round"/>
<path d="M-3.5,-3.4 L2.4,-3.8 V3.8 L-3.5,3.4 Q-5.2,0 -3.5,-3.4 Z" fill="#9c9c9c" stroke="#2e2e2e" stroke-width="0.8" stroke-linejoin="round"/>
<path d="M-3.9,-1.1 H2.4 M-3.9,1.3 H2.4" stroke="#444" stroke-width="0.6" fill="none"/>
</g>
<g transform="translate(782.5,750) rotate(-151.2)">
<rect x="2.8" y="-2.2" width="36.6" height="4.4" rx="1" fill="#c4c4c4" stroke="#2e2e2e" stroke-width="0.8" stroke-linejoin="round"/>
<path d="M37.9,-2.2 v4.4 M35.9,-2.2 v4.4 M33.9,-2.2 v4.4 M31.9,-2.2 v4.4 M29.9,-2.2 v4.4 M27.9,-2.2 v4.4 M25.9,-2.2 v4.4 M23.9,-2.2 v4.4 M21.9,-2.2 v4.4 M19.9,-2.2 v4.4 " stroke="#444" stroke-width="0.7" fill="none"/>
<ellipse cx="3.1" cy="0" rx="1.6" ry="4.75" fill="#bdbdbd" stroke="#2e2e2e" stroke-width="0.8" stroke-linejoin="round"/>
<path d="M-3.5,-3.4 L2.4,-3.8 V3.8 L-3.5,3.4 Q-5.2,0 -3.5,-3.4 Z" fill="#9c9c9c" stroke="#2e2e2e" stroke-width="0.8" stroke-linejoin="round"/>
<path d="M-3.9,-1.1 H2.4 M-3.9,1.3 H2.4" stroke="#444" stroke-width="0.6" fill="none"/>
</g>
<g transform="translate(735,389) rotate(142.6)">
<rect x="2.8" y="-2.2" width="15.3" height="4.4" rx="1" fill="#c4c4c4" stroke="#2e2e2e" stroke-width="0.8" stroke-linejoin="round"/>
<path d="M16.6,-2.2 v4.4 M14.6,-2.2 v4.4 M12.6,-2.2 v4.4 M10.6,-2.2 v4.4 " stroke="#444" stroke-width="0.7" fill="none"/>
<ellipse cx="3.1" cy="0" rx="1.6" ry="5.0" fill="#bdbdbd" stroke="#2e2e2e" stroke-width="0.8" stroke-linejoin="round"/>
<path d="M-3.5,-3.6 L2.4,-4.0 V4.0 L-3.5,3.6 Q-5.2,0 -3.5,-3.6 Z" fill="#9c9c9c" stroke="#2e2e2e" stroke-width="0.8" stroke-linejoin="round"/>
<path d="M-3.9,-1.2 H2.4 M-3.9,1.4 H2.4" stroke="#444" stroke-width="0.6" fill="none"/>
</g>
<g transform="translate(826,521) rotate(48.0)">
<rect x="2.8" y="-2.2" width="14.7" height="4.4" rx="1" fill="#c4c4c4" stroke="#2e2e2e" stroke-width="0.8" stroke-linejoin="round"/>
<path d="M16.0,-2.2 v4.4 M14.0,-2.2 v4.4 M12.0,-2.2 v4.4 M10.0,-2.2 v4.4 " stroke="#444" stroke-width="0.7" fill="none"/>
<ellipse cx="3.1" cy="0" rx="1.6" ry="5.0" fill="#bdbdbd" stroke="#2e2e2e" stroke-width="0.8" stroke-linejoin="round"/>
<path d="M-3.5,-3.6 L2.4,-4.0 V4.0 L-3.5,3.6 Q-5.2,0 -3.5,-3.6 Z" fill="#9c9c9c" stroke="#2e2e2e" stroke-width="0.8" stroke-linejoin="round"/>
<path d="M-3.9,-1.2 H2.4 M-3.9,1.4 H2.4" stroke="#444" stroke-width="0.6" fill="none"/>
</g>
<path d="M924.6,181 h4.8 v9 a2.4,1 0 0 1 -4.8,0 Z" fill="#bdbdbd" stroke="#2e2e2e" stroke-width="0.8" stroke-linejoin="round"/><path d="M924.6,184 h4.8 M924.6,186 h4.8 M924.6,188 h4.8" stroke="#555" stroke-width="0.7" fill="none"/>
<path d="M921.6,176 a5.4,3.2 0 0 1 10.8,0 v4 a5.4,2.4 0 0 1 -10.8,0 Z" fill="#8e8e8e" stroke="#2e2e2e" stroke-width="0.8" stroke-linejoin="round"/><ellipse cx="927" cy="175.5" rx="5.4" ry="3" fill="#b4b4b4" stroke="#2e2e2e" stroke-width="0.8" stroke-linejoin="round"/><path d="M924.5,175 l2.5,-1.2 l2.5,1.2 l-2.5,1.4z" fill="#555"/>
<path d="M831.5,686 h12.5 v10.5 h-12.5 Z" fill="#a4a4a4" stroke="#2e2e2e" stroke-width="0.8" stroke-linejoin="round"/><path d="M831.5,693 h12.5" fill="none" stroke="#2e2e2e" stroke-width="0.8" stroke-linejoin="round"/><ellipse cx="838" cy="689.3" rx="2.6" ry="2" fill="#e0e0e0" stroke="#2e2e2e" stroke-width="0.8" stroke-linejoin="round"/>
</g>
<!-- 85_lines.svg -->
<g id="leaders" class="ld">
<path d="M910.4,180.6 H921.6 M866.6,210.4 H881 M841.8,236.4 H852.4 M979,253.4 H993 M844.4,280.4 H860 M882,331.6 H897 M894,364.4 H909"/>
<path d="M638,384.4 V398.7 M735,367 V381 M570.5,473 V487.6 M432.4,518.7 V530.7 M827,498 V512.5 M897,495.8 V509 M725.4,566 V580 M852,591 V607 M601.7,649.7 V664.4 M761,855.6 V872.5 M770.8,747.5 V760 M798.7,467 V479"/>
<path d="M935.6,563 H948 M951,593 H967 M638.8,589.7 H654.4 M586.5,610 H598.4 M421,667.6 H439.4 M847.5,688 H862.5 M536.7,703.8 H564 M601.8,720 H612.8 M781,722.5 H793.8 M453,730 H469.7 M610.4,760.4 H618.3 M485.6,885.6 H498.7 M843.7,938 H857 M553,971.9 H567"/>
</g>
<g id="dashdots" class="dd">
<path d="M830,174 V196 L971,120 V224"/>
<path d="M970,232 V240"/>
<path d="M927,192 V205"/>
<path d="M886,217 V262"/>
<path d="M919,320 V328 M911,338 V357"/>
<path d="M954,300 V488 M954,498 V556"/>
<path d="M797,432 V420 L847,388.5 L869,401 M797,420 L810.6,427"/>
<path d="M881,382 V394 M821,409 V418"/>
<path d="M1016,500 V533 L976,555 M976,531 V571"/>
<path d="M837.7,535 L842,546"/>
<path d="M531.7,514.6 L520.6,510 V616"/>
<path d="M631.4,552 V574 M574.2,580 V600"/>
<path d="M717.5,626 V664 L675,688.8 L686,695"/>
<path d="M837.5,660 V684 M837.5,698 V900 M837,910 V928"/>
<path d="M770.8,702.5 V713.8"/>
<path d="M448.7,548.7 L455,552.7 V565"/>
<path d="M442.6,632 V650 M461.5,641 V652 L473.4,659 M473.4,645 V718"/>
<path d="M623,743 L656,760 V752 M623,743 L667,764.6 V756"/>
<path d="M542.2,665 V868 M571,680 V697 M571,711 V965"/>
<path d="M502.5,874 V863 L540,884"/>
</g>
<g class="l" stroke="#e8e8e8" stroke-width="1.6">
<path d="M465,585 L520,615" stroke-dasharray="9 2 2 2"/>
<path d="M747.5,730 L695,700" stroke-dasharray="9 2 2 2"/>
<path d="M720,400 L683,438" stroke="#d8d8d8" stroke-width="1.2"/>
<path d="M927,205 V222 M886,222 V240" stroke="#cfcfcf" stroke-width="1.2" stroke-dasharray="6 2"/>
</g>

<!-- 90_labels.svg -->
<g id="labels">
<rect x="592" y="625" width="19" height="24" fill="#f6e391"/>
<g class="t" stroke="#111" stroke-width="0.25">
<text x="897" y="185">13</text><text x="853" y="215">12</text><text x="832" y="242">11</text><text x="1002.5" y="258">17</text>
<text x="830" y="285">14</text><text x="868" y="336">15</text><text x="882" y="371">16</text>
<text x="636" y="381">19</text><text x="735" y="362">20</text><text x="571" y="469">25</text><text x="432.5" y="514">21</text>
<text x="797" y="493">26</text><text x="827" y="493">20</text><text x="897" y="523">9</text><text x="923" y="568">10</text>
<text x="940" y="600">26</text><text x="851" y="621">18</text><text x="725" y="561">25</text><text x="659.5" y="596">8</text>
<text x="607" y="616">28</text><text x="601" y="642">1</text><text x="418.6" y="671">7</text><text x="869" y="694">5</text>
<text x="525" y="709.3">29</text><text x="592" y="725">28</text><text x="801" y="727">28</text><text x="441" y="735.3">30</text>
<text x="600" y="763.5">30</text><text x="769" y="773">21</text><text x="761" y="852">2</text><text x="479" y="891">3</text>
<text x="865" y="944">4</text><text x="547" y="977">6</text>
</g>
</g>

</svg>
</body></html>
